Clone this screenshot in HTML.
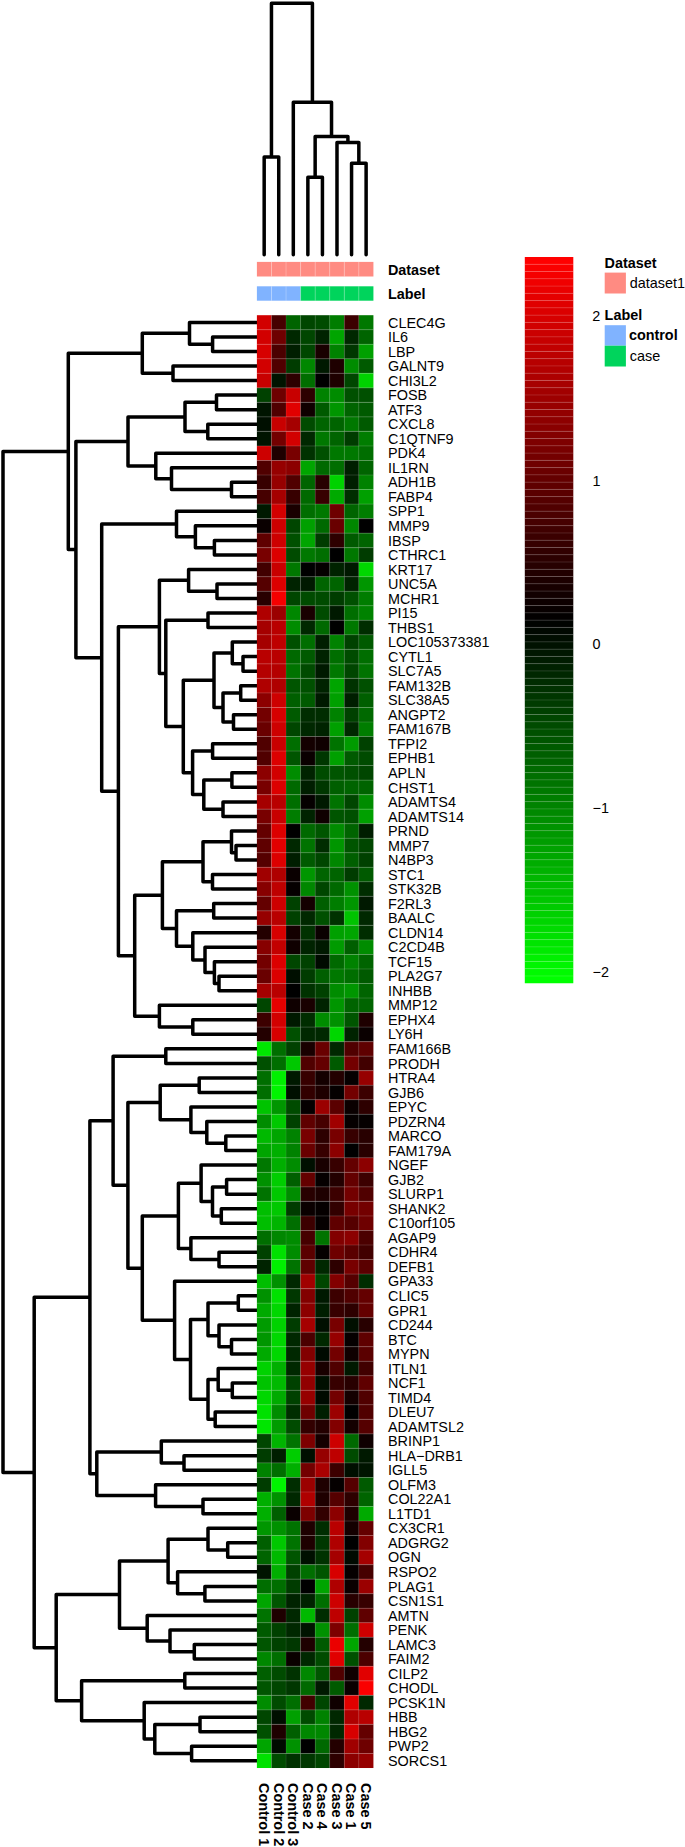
<!DOCTYPE html>
<html><head><meta charset="utf-8"><style>
html,body{margin:0;padding:0;background:#fff;}
body{width:685px;height:1847px;position:relative;overflow:hidden;font-family:"Liberation Sans",sans-serif;}
</style></head><body>
<svg width="685" height="1847" viewBox="0 0 685 1847" style="position:absolute;left:0;top:0"><path d="M256.90 336.99H212.60V351.52H256.90M256.90 322.46H189.50V344.26H212.60M256.90 366.05H173.00V380.58H256.90M189.50 333.36H142.30V373.31H173.00M256.90 395.10H216.50V409.63H256.90M256.90 424.16H207.80V438.69H256.90M216.50 402.37H185.00V431.42H207.80M256.90 482.27H231.50V496.80H256.90M256.90 467.74H171.50V489.54H231.50M256.90 453.22H155.80V478.64H171.50M185.00 416.90H128.00V465.93H155.80M256.90 540.38H214.40V554.91H256.90M256.90 525.86H195.40V547.65H214.40M256.90 511.33H176.50V536.75H195.40M256.90 583.97H217.00V598.50H256.90M256.90 569.44H188.60V591.23H217.00M256.90 613.02H208.00V627.55H256.90M256.90 656.61H243.00V671.14H256.90M256.90 642.08H232.30V663.87H243.00M256.90 685.66H240.70V700.19H256.90M256.90 714.72H233.50V729.25H256.90M240.70 692.93H223.00V721.98H233.50M232.30 652.98H214.00V707.46H223.00M256.90 743.78H212.60V758.30H256.90M256.90 772.83H231.90V787.36H256.90M256.90 801.89H223.00V816.42H256.90M231.90 780.10H203.80V809.15H223.00M212.60 751.04H192.60V794.62H203.80M214.00 680.22H183.30V772.83H192.60M208.00 620.29H165.80V726.52H183.30M188.60 580.34H159.40V673.41H165.80M256.90 845.47H236.00V860.00H256.90M256.90 830.94H231.50V852.74H236.00M256.90 874.53H212.50V889.06H256.90M231.50 841.84H203.00V881.79H212.50M256.90 903.58H213.70V918.11H256.90M256.90 976.22H219.00V990.75H256.90M256.90 961.70H214.40V983.49H219.00M256.90 947.17H205.00V972.59H214.40M256.90 932.64H192.80V959.88H205.00M213.70 910.85H176.50V946.26H192.80M203.00 861.82H162.40V928.55H176.50M256.90 1019.81H192.80V1034.34H256.90M256.90 1005.28H159.40V1027.07H192.80M162.40 895.19H134.70V1016.18H159.40M159.40 626.87H118.40V955.68H134.70M176.50 524.04H101.70V791.28H118.40M128.00 441.41H75.90V657.66H101.70M142.30 353.34H68.30V549.53H75.90M256.90 1048.86H165.80V1063.39H256.90M256.90 1077.92H199.20V1092.45H256.90M256.90 1136.03H225.80V1150.56H256.90M256.90 1121.50H206.80V1143.30H225.80M256.90 1106.98H190.90V1132.40H206.80M199.20 1085.18H160.20V1119.69H190.90M256.90 1179.62H226.60V1194.14H256.90M256.90 1208.67H221.30V1223.20H256.90M226.60 1186.88H212.50V1215.94H221.30M256.90 1165.09H201.10V1201.41H212.50M256.90 1252.26H219.00V1266.78H256.90M256.90 1237.73H190.90V1259.52H219.00M201.10 1183.25H178.40V1248.62H190.90M256.90 1295.84H238.30V1310.37H256.90M256.90 1339.42H231.50V1353.95H256.90M256.90 1324.90H219.00V1346.69H231.50M238.30 1303.10H208.00V1335.79H219.00M256.90 1383.01H232.30V1397.54H256.90M256.90 1368.48H218.20V1390.27H232.30M256.90 1412.06H215.20V1426.59H256.90M218.20 1379.38H208.00V1419.33H215.20M208.00 1319.45H190.50V1399.35H208.00M256.90 1281.31H174.60V1359.40H190.50M178.40 1215.94H142.30V1320.36H174.60M160.20 1102.44H127.90V1268.15H142.30M165.80 1056.13H113.10V1185.29H127.90M256.90 1455.65H184.00V1470.18H256.90M256.90 1441.12H161.30V1462.91H184.00M256.90 1499.23H203.00V1513.76H256.90M256.90 1484.70H155.60V1506.50H203.00M161.30 1452.02H96.80V1495.60H155.60M113.10 1120.71H89.90V1473.81H96.80M256.90 1542.82H227.70V1557.34H256.90M256.90 1528.29H208.00V1550.08H227.70M256.90 1586.40H204.90V1600.93H256.90M256.90 1571.87H177.60V1593.66H204.90M208.00 1539.18H168.10V1582.77H177.60M256.90 1644.51H194.30V1659.04H256.90M256.90 1629.98H170.00V1651.78H194.30M256.90 1615.46H147.20V1640.88H170.00M168.10 1560.98H119.50V1628.17H147.20M256.90 1673.57H184.80V1688.10H256.90M256.90 1717.15H200.00V1731.68H256.90M256.90 1746.21H191.60V1760.74H256.90M200.00 1724.42H154.80V1753.47H191.60M256.90 1702.62H144.20V1738.94H154.80M184.80 1680.83H81.60V1720.78H144.20M119.50 1594.57H56.20V1700.81H81.60M89.90 1297.26H34.20V1647.69H56.20M68.30 451.44H3.00V1472.47H34.20" stroke="#000" stroke-width="3.5" fill="none" stroke-linejoin="round" stroke-linecap="round"/><path d="M264.18 254.80V157.00H278.74V254.80M307.87 254.80V177.20H322.43V254.80M351.56 254.80V163.20H366.12V254.80M336.99 254.80V142.50H358.84V163.20M315.15 177.20V136.40H347.92V142.50M293.31 254.80V102.20H331.53V136.40M271.46 157.00V3.20H312.42V102.20" stroke="#000" stroke-width="3.5" fill="none" stroke-linejoin="round" stroke-linecap="round"/><g><rect x="256.90" y="315.20" width="14.58" height="14.55" fill="#d20000"/><rect x="271.46" y="315.20" width="14.58" height="14.55" fill="#460000"/><rect x="286.02" y="315.20" width="14.58" height="14.55" fill="#006400"/><rect x="300.59" y="315.20" width="14.58" height="14.55" fill="#004600"/><rect x="315.15" y="315.20" width="14.58" height="14.55" fill="#004b00"/><rect x="329.71" y="315.20" width="14.58" height="14.55" fill="#007d00"/><rect x="344.27" y="315.20" width="14.58" height="14.55" fill="#3c0000"/><rect x="358.84" y="315.20" width="14.58" height="14.55" fill="#007800"/><rect x="256.90" y="329.73" width="14.58" height="14.55" fill="#d20000"/><rect x="271.46" y="329.73" width="14.58" height="14.55" fill="#6e0000"/><rect x="286.02" y="329.73" width="14.58" height="14.55" fill="#002800"/><rect x="300.59" y="329.73" width="14.58" height="14.55" fill="#004600"/><rect x="315.15" y="329.73" width="14.58" height="14.55" fill="#002300"/><rect x="329.71" y="329.73" width="14.58" height="14.55" fill="#00a500"/><rect x="344.27" y="329.73" width="14.58" height="14.55" fill="#002800"/><rect x="358.84" y="329.73" width="14.58" height="14.55" fill="#006400"/><rect x="256.90" y="344.26" width="14.58" height="14.55" fill="#d70000"/><rect x="271.46" y="344.26" width="14.58" height="14.55" fill="#4b0000"/><rect x="286.02" y="344.26" width="14.58" height="14.55" fill="#001e00"/><rect x="300.59" y="344.26" width="14.58" height="14.55" fill="#004600"/><rect x="315.15" y="344.26" width="14.58" height="14.55" fill="#190000"/><rect x="329.71" y="344.26" width="14.58" height="14.55" fill="#008200"/><rect x="344.27" y="344.26" width="14.58" height="14.55" fill="#003700"/><rect x="358.84" y="344.26" width="14.58" height="14.55" fill="#00a000"/><rect x="256.90" y="358.78" width="14.58" height="14.55" fill="#d20000"/><rect x="271.46" y="358.78" width="14.58" height="14.55" fill="#500000"/><rect x="286.02" y="358.78" width="14.58" height="14.55" fill="#003c00"/><rect x="300.59" y="358.78" width="14.58" height="14.55" fill="#008700"/><rect x="315.15" y="358.78" width="14.58" height="14.55" fill="#001900"/><rect x="329.71" y="358.78" width="14.58" height="14.55" fill="#1e0000"/><rect x="344.27" y="358.78" width="14.58" height="14.55" fill="#008c00"/><rect x="358.84" y="358.78" width="14.58" height="14.55" fill="#005a00"/><rect x="256.90" y="373.31" width="14.58" height="14.55" fill="#c80000"/><rect x="271.46" y="373.31" width="14.58" height="14.55" fill="#001400"/><rect x="286.02" y="373.31" width="14.58" height="14.55" fill="#2d0000"/><rect x="300.59" y="373.31" width="14.58" height="14.55" fill="#006e00"/><rect x="315.15" y="373.31" width="14.58" height="14.55" fill="#000000"/><rect x="329.71" y="373.31" width="14.58" height="14.55" fill="#1e0000"/><rect x="344.27" y="373.31" width="14.58" height="14.55" fill="#004600"/><rect x="358.84" y="373.31" width="14.58" height="14.55" fill="#00d200"/><rect x="256.90" y="387.84" width="14.58" height="14.55" fill="#004100"/><rect x="271.46" y="387.84" width="14.58" height="14.55" fill="#6e0000"/><rect x="286.02" y="387.84" width="14.58" height="14.55" fill="#c80000"/><rect x="300.59" y="387.84" width="14.58" height="14.55" fill="#2d0000"/><rect x="315.15" y="387.84" width="14.58" height="14.55" fill="#008200"/><rect x="329.71" y="387.84" width="14.58" height="14.55" fill="#008c00"/><rect x="344.27" y="387.84" width="14.58" height="14.55" fill="#005000"/><rect x="358.84" y="387.84" width="14.58" height="14.55" fill="#005000"/><rect x="256.90" y="402.37" width="14.58" height="14.55" fill="#001400"/><rect x="271.46" y="402.37" width="14.58" height="14.55" fill="#500000"/><rect x="286.02" y="402.37" width="14.58" height="14.55" fill="#e10000"/><rect x="300.59" y="402.37" width="14.58" height="14.55" fill="#0f0000"/><rect x="315.15" y="402.37" width="14.58" height="14.55" fill="#005a00"/><rect x="329.71" y="402.37" width="14.58" height="14.55" fill="#009600"/><rect x="344.27" y="402.37" width="14.58" height="14.55" fill="#006400"/><rect x="358.84" y="402.37" width="14.58" height="14.55" fill="#005a00"/><rect x="256.90" y="416.90" width="14.58" height="14.55" fill="#000f00"/><rect x="271.46" y="416.90" width="14.58" height="14.55" fill="#c80000"/><rect x="286.02" y="416.90" width="14.58" height="14.55" fill="#a50000"/><rect x="300.59" y="416.90" width="14.58" height="14.55" fill="#004b00"/><rect x="315.15" y="416.90" width="14.58" height="14.55" fill="#006400"/><rect x="329.71" y="416.90" width="14.58" height="14.55" fill="#006400"/><rect x="344.27" y="416.90" width="14.58" height="14.55" fill="#007800"/><rect x="358.84" y="416.90" width="14.58" height="14.55" fill="#005a00"/><rect x="256.90" y="431.42" width="14.58" height="14.55" fill="#001400"/><rect x="271.46" y="431.42" width="14.58" height="14.55" fill="#730000"/><rect x="286.02" y="431.42" width="14.58" height="14.55" fill="#d20000"/><rect x="300.59" y="431.42" width="14.58" height="14.55" fill="#002800"/><rect x="315.15" y="431.42" width="14.58" height="14.55" fill="#007800"/><rect x="329.71" y="431.42" width="14.58" height="14.55" fill="#006400"/><rect x="344.27" y="431.42" width="14.58" height="14.55" fill="#003c00"/><rect x="358.84" y="431.42" width="14.58" height="14.55" fill="#007d00"/><rect x="256.90" y="445.95" width="14.58" height="14.55" fill="#cd0000"/><rect x="271.46" y="445.95" width="14.58" height="14.55" fill="#1e0000"/><rect x="286.02" y="445.95" width="14.58" height="14.55" fill="#780000"/><rect x="300.59" y="445.95" width="14.58" height="14.55" fill="#003200"/><rect x="315.15" y="445.95" width="14.58" height="14.55" fill="#005000"/><rect x="329.71" y="445.95" width="14.58" height="14.55" fill="#007800"/><rect x="344.27" y="445.95" width="14.58" height="14.55" fill="#007800"/><rect x="358.84" y="445.95" width="14.58" height="14.55" fill="#006e00"/><rect x="256.90" y="460.48" width="14.58" height="14.55" fill="#500000"/><rect x="271.46" y="460.48" width="14.58" height="14.55" fill="#960000"/><rect x="286.02" y="460.48" width="14.58" height="14.55" fill="#8c0000"/><rect x="300.59" y="460.48" width="14.58" height="14.55" fill="#00a500"/><rect x="315.15" y="460.48" width="14.58" height="14.55" fill="#006900"/><rect x="329.71" y="460.48" width="14.58" height="14.55" fill="#006e00"/><rect x="344.27" y="460.48" width="14.58" height="14.55" fill="#001e00"/><rect x="358.84" y="460.48" width="14.58" height="14.55" fill="#006400"/><rect x="256.90" y="475.01" width="14.58" height="14.55" fill="#370000"/><rect x="271.46" y="475.01" width="14.58" height="14.55" fill="#960000"/><rect x="286.02" y="475.01" width="14.58" height="14.55" fill="#500000"/><rect x="300.59" y="475.01" width="14.58" height="14.55" fill="#006400"/><rect x="315.15" y="475.01" width="14.58" height="14.55" fill="#280000"/><rect x="329.71" y="475.01" width="14.58" height="14.55" fill="#00d200"/><rect x="344.27" y="475.01" width="14.58" height="14.55" fill="#001e00"/><rect x="358.84" y="475.01" width="14.58" height="14.55" fill="#008200"/><rect x="256.90" y="489.54" width="14.58" height="14.55" fill="#460000"/><rect x="271.46" y="489.54" width="14.58" height="14.55" fill="#a50000"/><rect x="286.02" y="489.54" width="14.58" height="14.55" fill="#370000"/><rect x="300.59" y="489.54" width="14.58" height="14.55" fill="#006900"/><rect x="315.15" y="489.54" width="14.58" height="14.55" fill="#370000"/><rect x="329.71" y="489.54" width="14.58" height="14.55" fill="#00aa00"/><rect x="344.27" y="489.54" width="14.58" height="14.55" fill="#002d00"/><rect x="358.84" y="489.54" width="14.58" height="14.55" fill="#00a000"/><rect x="256.90" y="504.06" width="14.58" height="14.55" fill="#001900"/><rect x="271.46" y="504.06" width="14.58" height="14.55" fill="#d20000"/><rect x="286.02" y="504.06" width="14.58" height="14.55" fill="#190000"/><rect x="300.59" y="504.06" width="14.58" height="14.55" fill="#006e00"/><rect x="315.15" y="504.06" width="14.58" height="14.55" fill="#007800"/><rect x="329.71" y="504.06" width="14.58" height="14.55" fill="#6e0000"/><rect x="344.27" y="504.06" width="14.58" height="14.55" fill="#006400"/><rect x="358.84" y="504.06" width="14.58" height="14.55" fill="#007d00"/><rect x="256.90" y="518.59" width="14.58" height="14.55" fill="#0a0000"/><rect x="271.46" y="518.59" width="14.58" height="14.55" fill="#cd0000"/><rect x="286.02" y="518.59" width="14.58" height="14.55" fill="#004600"/><rect x="300.59" y="518.59" width="14.58" height="14.55" fill="#00a000"/><rect x="315.15" y="518.59" width="14.58" height="14.55" fill="#006900"/><rect x="329.71" y="518.59" width="14.58" height="14.55" fill="#690000"/><rect x="344.27" y="518.59" width="14.58" height="14.55" fill="#008700"/><rect x="358.84" y="518.59" width="14.58" height="14.55" fill="#000000"/><rect x="256.90" y="533.12" width="14.58" height="14.55" fill="#5f0000"/><rect x="271.46" y="533.12" width="14.58" height="14.55" fill="#cd0000"/><rect x="286.02" y="533.12" width="14.58" height="14.55" fill="#005000"/><rect x="300.59" y="533.12" width="14.58" height="14.55" fill="#00a500"/><rect x="315.15" y="533.12" width="14.58" height="14.55" fill="#003c00"/><rect x="329.71" y="533.12" width="14.58" height="14.55" fill="#2d0000"/><rect x="344.27" y="533.12" width="14.58" height="14.55" fill="#005a00"/><rect x="358.84" y="533.12" width="14.58" height="14.55" fill="#006400"/><rect x="256.90" y="547.65" width="14.58" height="14.55" fill="#780000"/><rect x="271.46" y="547.65" width="14.58" height="14.55" fill="#dc0000"/><rect x="286.02" y="547.65" width="14.58" height="14.55" fill="#004b00"/><rect x="300.59" y="547.65" width="14.58" height="14.55" fill="#007800"/><rect x="315.15" y="547.65" width="14.58" height="14.55" fill="#006e00"/><rect x="329.71" y="547.65" width="14.58" height="14.55" fill="#000000"/><rect x="344.27" y="547.65" width="14.58" height="14.55" fill="#007800"/><rect x="358.84" y="547.65" width="14.58" height="14.55" fill="#003c00"/><rect x="256.90" y="562.18" width="14.58" height="14.55" fill="#410000"/><rect x="271.46" y="562.18" width="14.58" height="14.55" fill="#c80000"/><rect x="286.02" y="562.18" width="14.58" height="14.55" fill="#007800"/><rect x="300.59" y="562.18" width="14.58" height="14.55" fill="#000000"/><rect x="315.15" y="562.18" width="14.58" height="14.55" fill="#050000"/><rect x="329.71" y="562.18" width="14.58" height="14.55" fill="#002300"/><rect x="344.27" y="562.18" width="14.58" height="14.55" fill="#001900"/><rect x="358.84" y="562.18" width="14.58" height="14.55" fill="#00d700"/><rect x="256.90" y="576.70" width="14.58" height="14.55" fill="#550000"/><rect x="271.46" y="576.70" width="14.58" height="14.55" fill="#dc0000"/><rect x="286.02" y="576.70" width="14.58" height="14.55" fill="#002300"/><rect x="300.59" y="576.70" width="14.58" height="14.55" fill="#001900"/><rect x="315.15" y="576.70" width="14.58" height="14.55" fill="#006400"/><rect x="329.71" y="576.70" width="14.58" height="14.55" fill="#006400"/><rect x="344.27" y="576.70" width="14.58" height="14.55" fill="#002300"/><rect x="358.84" y="576.70" width="14.58" height="14.55" fill="#009600"/><rect x="256.90" y="591.23" width="14.58" height="14.55" fill="#280000"/><rect x="271.46" y="591.23" width="14.58" height="14.55" fill="#f50000"/><rect x="286.02" y="591.23" width="14.58" height="14.55" fill="#004600"/><rect x="300.59" y="591.23" width="14.58" height="14.55" fill="#004b00"/><rect x="315.15" y="591.23" width="14.58" height="14.55" fill="#004b00"/><rect x="329.71" y="591.23" width="14.58" height="14.55" fill="#003c00"/><rect x="344.27" y="591.23" width="14.58" height="14.55" fill="#005000"/><rect x="358.84" y="591.23" width="14.58" height="14.55" fill="#007d00"/><rect x="256.90" y="605.76" width="14.58" height="14.55" fill="#af0000"/><rect x="271.46" y="605.76" width="14.58" height="14.55" fill="#9b0000"/><rect x="286.02" y="605.76" width="14.58" height="14.55" fill="#008700"/><rect x="300.59" y="605.76" width="14.58" height="14.55" fill="#190000"/><rect x="315.15" y="605.76" width="14.58" height="14.55" fill="#004b00"/><rect x="329.71" y="605.76" width="14.58" height="14.55" fill="#001900"/><rect x="344.27" y="605.76" width="14.58" height="14.55" fill="#006e00"/><rect x="358.84" y="605.76" width="14.58" height="14.55" fill="#008200"/><rect x="256.90" y="620.29" width="14.58" height="14.55" fill="#a50000"/><rect x="271.46" y="620.29" width="14.58" height="14.55" fill="#b90000"/><rect x="286.02" y="620.29" width="14.58" height="14.55" fill="#008c00"/><rect x="300.59" y="620.29" width="14.58" height="14.55" fill="#002800"/><rect x="315.15" y="620.29" width="14.58" height="14.55" fill="#006900"/><rect x="329.71" y="620.29" width="14.58" height="14.55" fill="#000000"/><rect x="344.27" y="620.29" width="14.58" height="14.55" fill="#007800"/><rect x="358.84" y="620.29" width="14.58" height="14.55" fill="#002d00"/><rect x="256.90" y="634.82" width="14.58" height="14.55" fill="#a50000"/><rect x="271.46" y="634.82" width="14.58" height="14.55" fill="#be0000"/><rect x="286.02" y="634.82" width="14.58" height="14.55" fill="#005000"/><rect x="300.59" y="634.82" width="14.58" height="14.55" fill="#006e00"/><rect x="315.15" y="634.82" width="14.58" height="14.55" fill="#001e00"/><rect x="329.71" y="634.82" width="14.58" height="14.55" fill="#008200"/><rect x="344.27" y="634.82" width="14.58" height="14.55" fill="#004100"/><rect x="358.84" y="634.82" width="14.58" height="14.55" fill="#005a00"/><rect x="256.90" y="649.34" width="14.58" height="14.55" fill="#b90000"/><rect x="271.46" y="649.34" width="14.58" height="14.55" fill="#b90000"/><rect x="286.02" y="649.34" width="14.58" height="14.55" fill="#006900"/><rect x="300.59" y="649.34" width="14.58" height="14.55" fill="#005a00"/><rect x="315.15" y="649.34" width="14.58" height="14.55" fill="#002300"/><rect x="329.71" y="649.34" width="14.58" height="14.55" fill="#006e00"/><rect x="344.27" y="649.34" width="14.58" height="14.55" fill="#004b00"/><rect x="358.84" y="649.34" width="14.58" height="14.55" fill="#006e00"/><rect x="256.90" y="663.87" width="14.58" height="14.55" fill="#b40000"/><rect x="271.46" y="663.87" width="14.58" height="14.55" fill="#b40000"/><rect x="286.02" y="663.87" width="14.58" height="14.55" fill="#007300"/><rect x="300.59" y="663.87" width="14.58" height="14.55" fill="#004b00"/><rect x="315.15" y="663.87" width="14.58" height="14.55" fill="#001900"/><rect x="329.71" y="663.87" width="14.58" height="14.55" fill="#007800"/><rect x="344.27" y="663.87" width="14.58" height="14.55" fill="#004600"/><rect x="358.84" y="663.87" width="14.58" height="14.55" fill="#007300"/><rect x="256.90" y="678.40" width="14.58" height="14.55" fill="#af0000"/><rect x="271.46" y="678.40" width="14.58" height="14.55" fill="#af0000"/><rect x="286.02" y="678.40" width="14.58" height="14.55" fill="#005500"/><rect x="300.59" y="678.40" width="14.58" height="14.55" fill="#005000"/><rect x="315.15" y="678.40" width="14.58" height="14.55" fill="#002300"/><rect x="329.71" y="678.40" width="14.58" height="14.55" fill="#00a500"/><rect x="344.27" y="678.40" width="14.58" height="14.55" fill="#003200"/><rect x="358.84" y="678.40" width="14.58" height="14.55" fill="#005000"/><rect x="256.90" y="692.93" width="14.58" height="14.55" fill="#8c0000"/><rect x="271.46" y="692.93" width="14.58" height="14.55" fill="#cd0000"/><rect x="286.02" y="692.93" width="14.58" height="14.55" fill="#005f00"/><rect x="300.59" y="692.93" width="14.58" height="14.55" fill="#005a00"/><rect x="315.15" y="692.93" width="14.58" height="14.55" fill="#001900"/><rect x="329.71" y="692.93" width="14.58" height="14.55" fill="#00a000"/><rect x="344.27" y="692.93" width="14.58" height="14.55" fill="#001e00"/><rect x="358.84" y="692.93" width="14.58" height="14.55" fill="#005f00"/><rect x="256.90" y="707.46" width="14.58" height="14.55" fill="#730000"/><rect x="271.46" y="707.46" width="14.58" height="14.55" fill="#d70000"/><rect x="286.02" y="707.46" width="14.58" height="14.55" fill="#005a00"/><rect x="300.59" y="707.46" width="14.58" height="14.55" fill="#002d00"/><rect x="315.15" y="707.46" width="14.58" height="14.55" fill="#002d00"/><rect x="329.71" y="707.46" width="14.58" height="14.55" fill="#008200"/><rect x="344.27" y="707.46" width="14.58" height="14.55" fill="#004100"/><rect x="358.84" y="707.46" width="14.58" height="14.55" fill="#006900"/><rect x="256.90" y="721.98" width="14.58" height="14.55" fill="#690000"/><rect x="271.46" y="721.98" width="14.58" height="14.55" fill="#cd0000"/><rect x="286.02" y="721.98" width="14.58" height="14.55" fill="#004600"/><rect x="300.59" y="721.98" width="14.58" height="14.55" fill="#002800"/><rect x="315.15" y="721.98" width="14.58" height="14.55" fill="#002300"/><rect x="329.71" y="721.98" width="14.58" height="14.55" fill="#00a000"/><rect x="344.27" y="721.98" width="14.58" height="14.55" fill="#002800"/><rect x="358.84" y="721.98" width="14.58" height="14.55" fill="#007d00"/><rect x="256.90" y="736.51" width="14.58" height="14.55" fill="#500000"/><rect x="271.46" y="736.51" width="14.58" height="14.55" fill="#c80000"/><rect x="286.02" y="736.51" width="14.58" height="14.55" fill="#006e00"/><rect x="300.59" y="736.51" width="14.58" height="14.55" fill="#140000"/><rect x="315.15" y="736.51" width="14.58" height="14.55" fill="#0f0000"/><rect x="329.71" y="736.51" width="14.58" height="14.55" fill="#007300"/><rect x="344.27" y="736.51" width="14.58" height="14.55" fill="#009b00"/><rect x="358.84" y="736.51" width="14.58" height="14.55" fill="#004100"/><rect x="256.90" y="751.04" width="14.58" height="14.55" fill="#500000"/><rect x="271.46" y="751.04" width="14.58" height="14.55" fill="#dc0000"/><rect x="286.02" y="751.04" width="14.58" height="14.55" fill="#005500"/><rect x="300.59" y="751.04" width="14.58" height="14.55" fill="#0a0000"/><rect x="315.15" y="751.04" width="14.58" height="14.55" fill="#003700"/><rect x="329.71" y="751.04" width="14.58" height="14.55" fill="#00a000"/><rect x="344.27" y="751.04" width="14.58" height="14.55" fill="#005a00"/><rect x="358.84" y="751.04" width="14.58" height="14.55" fill="#004b00"/><rect x="256.90" y="765.57" width="14.58" height="14.55" fill="#8c0000"/><rect x="271.46" y="765.57" width="14.58" height="14.55" fill="#d20000"/><rect x="286.02" y="765.57" width="14.58" height="14.55" fill="#008c00"/><rect x="300.59" y="765.57" width="14.58" height="14.55" fill="#002300"/><rect x="315.15" y="765.57" width="14.58" height="14.55" fill="#004b00"/><rect x="329.71" y="765.57" width="14.58" height="14.55" fill="#005500"/><rect x="344.27" y="765.57" width="14.58" height="14.55" fill="#005000"/><rect x="358.84" y="765.57" width="14.58" height="14.55" fill="#004600"/><rect x="256.90" y="780.10" width="14.58" height="14.55" fill="#780000"/><rect x="271.46" y="780.10" width="14.58" height="14.55" fill="#dc0000"/><rect x="286.02" y="780.10" width="14.58" height="14.55" fill="#006900"/><rect x="300.59" y="780.10" width="14.58" height="14.55" fill="#001e00"/><rect x="315.15" y="780.10" width="14.58" height="14.55" fill="#003700"/><rect x="329.71" y="780.10" width="14.58" height="14.55" fill="#005f00"/><rect x="344.27" y="780.10" width="14.58" height="14.55" fill="#006400"/><rect x="358.84" y="780.10" width="14.58" height="14.55" fill="#006400"/><rect x="256.90" y="794.62" width="14.58" height="14.55" fill="#a50000"/><rect x="271.46" y="794.62" width="14.58" height="14.55" fill="#b90000"/><rect x="286.02" y="794.62" width="14.58" height="14.55" fill="#006e00"/><rect x="300.59" y="794.62" width="14.58" height="14.55" fill="#050000"/><rect x="315.15" y="794.62" width="14.58" height="14.55" fill="#001900"/><rect x="329.71" y="794.62" width="14.58" height="14.55" fill="#007300"/><rect x="344.27" y="794.62" width="14.58" height="14.55" fill="#004600"/><rect x="358.84" y="794.62" width="14.58" height="14.55" fill="#008c00"/><rect x="256.90" y="809.15" width="14.58" height="14.55" fill="#780000"/><rect x="271.46" y="809.15" width="14.58" height="14.55" fill="#c80000"/><rect x="286.02" y="809.15" width="14.58" height="14.55" fill="#007d00"/><rect x="300.59" y="809.15" width="14.58" height="14.55" fill="#002300"/><rect x="315.15" y="809.15" width="14.58" height="14.55" fill="#0f0000"/><rect x="329.71" y="809.15" width="14.58" height="14.55" fill="#005500"/><rect x="344.27" y="809.15" width="14.58" height="14.55" fill="#005000"/><rect x="358.84" y="809.15" width="14.58" height="14.55" fill="#00a000"/><rect x="256.90" y="823.68" width="14.58" height="14.55" fill="#640000"/><rect x="271.46" y="823.68" width="14.58" height="14.55" fill="#dc0000"/><rect x="286.02" y="823.68" width="14.58" height="14.55" fill="#000000"/><rect x="300.59" y="823.68" width="14.58" height="14.55" fill="#006900"/><rect x="315.15" y="823.68" width="14.58" height="14.55" fill="#005500"/><rect x="329.71" y="823.68" width="14.58" height="14.55" fill="#008c00"/><rect x="344.27" y="823.68" width="14.58" height="14.55" fill="#006400"/><rect x="358.84" y="823.68" width="14.58" height="14.55" fill="#001e00"/><rect x="256.90" y="838.21" width="14.58" height="14.55" fill="#5f0000"/><rect x="271.46" y="838.21" width="14.58" height="14.55" fill="#e10000"/><rect x="286.02" y="838.21" width="14.58" height="14.55" fill="#002800"/><rect x="300.59" y="838.21" width="14.58" height="14.55" fill="#007300"/><rect x="315.15" y="838.21" width="14.58" height="14.55" fill="#002d00"/><rect x="329.71" y="838.21" width="14.58" height="14.55" fill="#009600"/><rect x="344.27" y="838.21" width="14.58" height="14.55" fill="#005500"/><rect x="358.84" y="838.21" width="14.58" height="14.55" fill="#004600"/><rect x="256.90" y="852.74" width="14.58" height="14.55" fill="#550000"/><rect x="271.46" y="852.74" width="14.58" height="14.55" fill="#dc0000"/><rect x="286.02" y="852.74" width="14.58" height="14.55" fill="#001e00"/><rect x="300.59" y="852.74" width="14.58" height="14.55" fill="#005a00"/><rect x="315.15" y="852.74" width="14.58" height="14.55" fill="#004600"/><rect x="329.71" y="852.74" width="14.58" height="14.55" fill="#008700"/><rect x="344.27" y="852.74" width="14.58" height="14.55" fill="#005f00"/><rect x="358.84" y="852.74" width="14.58" height="14.55" fill="#004100"/><rect x="256.90" y="867.26" width="14.58" height="14.55" fill="#a00000"/><rect x="271.46" y="867.26" width="14.58" height="14.55" fill="#af0000"/><rect x="286.02" y="867.26" width="14.58" height="14.55" fill="#0a0000"/><rect x="300.59" y="867.26" width="14.58" height="14.55" fill="#009600"/><rect x="315.15" y="867.26" width="14.58" height="14.55" fill="#006400"/><rect x="329.71" y="867.26" width="14.58" height="14.55" fill="#006400"/><rect x="344.27" y="867.26" width="14.58" height="14.55" fill="#003c00"/><rect x="358.84" y="867.26" width="14.58" height="14.55" fill="#005a00"/><rect x="256.90" y="881.79" width="14.58" height="14.55" fill="#870000"/><rect x="271.46" y="881.79" width="14.58" height="14.55" fill="#be0000"/><rect x="286.02" y="881.79" width="14.58" height="14.55" fill="#050000"/><rect x="300.59" y="881.79" width="14.58" height="14.55" fill="#008700"/><rect x="315.15" y="881.79" width="14.58" height="14.55" fill="#004600"/><rect x="329.71" y="881.79" width="14.58" height="14.55" fill="#006900"/><rect x="344.27" y="881.79" width="14.58" height="14.55" fill="#009100"/><rect x="358.84" y="881.79" width="14.58" height="14.55" fill="#002d00"/><rect x="256.90" y="896.32" width="14.58" height="14.55" fill="#640000"/><rect x="271.46" y="896.32" width="14.58" height="14.55" fill="#cd0000"/><rect x="286.02" y="896.32" width="14.58" height="14.55" fill="#004100"/><rect x="300.59" y="896.32" width="14.58" height="14.55" fill="#140000"/><rect x="315.15" y="896.32" width="14.58" height="14.55" fill="#005f00"/><rect x="329.71" y="896.32" width="14.58" height="14.55" fill="#007d00"/><rect x="344.27" y="896.32" width="14.58" height="14.55" fill="#009600"/><rect x="358.84" y="896.32" width="14.58" height="14.55" fill="#001900"/><rect x="256.90" y="910.85" width="14.58" height="14.55" fill="#960000"/><rect x="271.46" y="910.85" width="14.58" height="14.55" fill="#b90000"/><rect x="286.02" y="910.85" width="14.58" height="14.55" fill="#004100"/><rect x="300.59" y="910.85" width="14.58" height="14.55" fill="#002800"/><rect x="315.15" y="910.85" width="14.58" height="14.55" fill="#005000"/><rect x="329.71" y="910.85" width="14.58" height="14.55" fill="#003200"/><rect x="344.27" y="910.85" width="14.58" height="14.55" fill="#00c300"/><rect x="358.84" y="910.85" width="14.58" height="14.55" fill="#002800"/><rect x="256.90" y="925.38" width="14.58" height="14.55" fill="#230000"/><rect x="271.46" y="925.38" width="14.58" height="14.55" fill="#d70000"/><rect x="286.02" y="925.38" width="14.58" height="14.55" fill="#140000"/><rect x="300.59" y="925.38" width="14.58" height="14.55" fill="#003200"/><rect x="315.15" y="925.38" width="14.58" height="14.55" fill="#0a0000"/><rect x="329.71" y="925.38" width="14.58" height="14.55" fill="#00a000"/><rect x="344.27" y="925.38" width="14.58" height="14.55" fill="#00a500"/><rect x="358.84" y="925.38" width="14.58" height="14.55" fill="#002d00"/><rect x="256.90" y="939.90" width="14.58" height="14.55" fill="#870000"/><rect x="271.46" y="939.90" width="14.58" height="14.55" fill="#c30000"/><rect x="286.02" y="939.90" width="14.58" height="14.55" fill="#0f0000"/><rect x="300.59" y="939.90" width="14.58" height="14.55" fill="#002300"/><rect x="315.15" y="939.90" width="14.58" height="14.55" fill="#001900"/><rect x="329.71" y="939.90" width="14.58" height="14.55" fill="#009b00"/><rect x="344.27" y="939.90" width="14.58" height="14.55" fill="#005f00"/><rect x="358.84" y="939.90" width="14.58" height="14.55" fill="#008c00"/><rect x="256.90" y="954.43" width="14.58" height="14.55" fill="#730000"/><rect x="271.46" y="954.43" width="14.58" height="14.55" fill="#dc0000"/><rect x="286.02" y="954.43" width="14.58" height="14.55" fill="#004600"/><rect x="300.59" y="954.43" width="14.58" height="14.55" fill="#004100"/><rect x="315.15" y="954.43" width="14.58" height="14.55" fill="#000a00"/><rect x="329.71" y="954.43" width="14.58" height="14.55" fill="#006900"/><rect x="344.27" y="954.43" width="14.58" height="14.55" fill="#008200"/><rect x="358.84" y="954.43" width="14.58" height="14.55" fill="#006400"/><rect x="256.90" y="968.96" width="14.58" height="14.55" fill="#690000"/><rect x="271.46" y="968.96" width="14.58" height="14.55" fill="#dc0000"/><rect x="286.02" y="968.96" width="14.58" height="14.55" fill="#000f00"/><rect x="300.59" y="968.96" width="14.58" height="14.55" fill="#003c00"/><rect x="315.15" y="968.96" width="14.58" height="14.55" fill="#005f00"/><rect x="329.71" y="968.96" width="14.58" height="14.55" fill="#007800"/><rect x="344.27" y="968.96" width="14.58" height="14.55" fill="#006e00"/><rect x="358.84" y="968.96" width="14.58" height="14.55" fill="#005a00"/><rect x="256.90" y="983.49" width="14.58" height="14.55" fill="#a50000"/><rect x="271.46" y="983.49" width="14.58" height="14.55" fill="#b90000"/><rect x="286.02" y="983.49" width="14.58" height="14.55" fill="#000000"/><rect x="300.59" y="983.49" width="14.58" height="14.55" fill="#003200"/><rect x="315.15" y="983.49" width="14.58" height="14.55" fill="#004100"/><rect x="329.71" y="983.49" width="14.58" height="14.55" fill="#008c00"/><rect x="344.27" y="983.49" width="14.58" height="14.55" fill="#009600"/><rect x="358.84" y="983.49" width="14.58" height="14.55" fill="#006400"/><rect x="256.90" y="998.02" width="14.58" height="14.55" fill="#004600"/><rect x="271.46" y="998.02" width="14.58" height="14.55" fill="#e60000"/><rect x="286.02" y="998.02" width="14.58" height="14.55" fill="#0f0000"/><rect x="300.59" y="998.02" width="14.58" height="14.55" fill="#190000"/><rect x="315.15" y="998.02" width="14.58" height="14.55" fill="#002300"/><rect x="329.71" y="998.02" width="14.58" height="14.55" fill="#009600"/><rect x="344.27" y="998.02" width="14.58" height="14.55" fill="#006400"/><rect x="358.84" y="998.02" width="14.58" height="14.55" fill="#006400"/><rect x="256.90" y="1012.54" width="14.58" height="14.55" fill="#3c0000"/><rect x="271.46" y="1012.54" width="14.58" height="14.55" fill="#d20000"/><rect x="286.02" y="1012.54" width="14.58" height="14.55" fill="#001900"/><rect x="300.59" y="1012.54" width="14.58" height="14.55" fill="#002d00"/><rect x="315.15" y="1012.54" width="14.58" height="14.55" fill="#008c00"/><rect x="329.71" y="1012.54" width="14.58" height="14.55" fill="#009100"/><rect x="344.27" y="1012.54" width="14.58" height="14.55" fill="#005500"/><rect x="358.84" y="1012.54" width="14.58" height="14.55" fill="#1e0000"/><rect x="256.90" y="1027.07" width="14.58" height="14.55" fill="#230000"/><rect x="271.46" y="1027.07" width="14.58" height="14.55" fill="#d70000"/><rect x="286.02" y="1027.07" width="14.58" height="14.55" fill="#005000"/><rect x="300.59" y="1027.07" width="14.58" height="14.55" fill="#002800"/><rect x="315.15" y="1027.07" width="14.58" height="14.55" fill="#002800"/><rect x="329.71" y="1027.07" width="14.58" height="14.55" fill="#00d700"/><rect x="344.27" y="1027.07" width="14.58" height="14.55" fill="#002300"/><rect x="358.84" y="1027.07" width="14.58" height="14.55" fill="#0a0000"/><rect x="256.90" y="1041.60" width="14.58" height="14.55" fill="#00e600"/><rect x="271.46" y="1041.60" width="14.58" height="14.55" fill="#006e00"/><rect x="286.02" y="1041.60" width="14.58" height="14.55" fill="#004100"/><rect x="300.59" y="1041.60" width="14.58" height="14.55" fill="#190000"/><rect x="315.15" y="1041.60" width="14.58" height="14.55" fill="#690000"/><rect x="329.71" y="1041.60" width="14.58" height="14.55" fill="#002800"/><rect x="344.27" y="1041.60" width="14.58" height="14.55" fill="#500000"/><rect x="358.84" y="1041.60" width="14.58" height="14.55" fill="#5f0000"/><rect x="256.90" y="1056.13" width="14.58" height="14.55" fill="#005000"/><rect x="271.46" y="1056.13" width="14.58" height="14.55" fill="#006e00"/><rect x="286.02" y="1056.13" width="14.58" height="14.55" fill="#00c800"/><rect x="300.59" y="1056.13" width="14.58" height="14.55" fill="#500000"/><rect x="315.15" y="1056.13" width="14.58" height="14.55" fill="#640000"/><rect x="329.71" y="1056.13" width="14.58" height="14.55" fill="#005a00"/><rect x="344.27" y="1056.13" width="14.58" height="14.55" fill="#730000"/><rect x="358.84" y="1056.13" width="14.58" height="14.55" fill="#410000"/><rect x="256.90" y="1070.66" width="14.58" height="14.55" fill="#006e00"/><rect x="271.46" y="1070.66" width="14.58" height="14.55" fill="#00f000"/><rect x="286.02" y="1070.66" width="14.58" height="14.55" fill="#001900"/><rect x="300.59" y="1070.66" width="14.58" height="14.55" fill="#370000"/><rect x="315.15" y="1070.66" width="14.58" height="14.55" fill="#140000"/><rect x="329.71" y="1070.66" width="14.58" height="14.55" fill="#230000"/><rect x="344.27" y="1070.66" width="14.58" height="14.55" fill="#050000"/><rect x="358.84" y="1070.66" width="14.58" height="14.55" fill="#960000"/><rect x="256.90" y="1085.18" width="14.58" height="14.55" fill="#006e00"/><rect x="271.46" y="1085.18" width="14.58" height="14.55" fill="#00f500"/><rect x="286.02" y="1085.18" width="14.58" height="14.55" fill="#000f00"/><rect x="300.59" y="1085.18" width="14.58" height="14.55" fill="#320000"/><rect x="315.15" y="1085.18" width="14.58" height="14.55" fill="#1e0000"/><rect x="329.71" y="1085.18" width="14.58" height="14.55" fill="#050000"/><rect x="344.27" y="1085.18" width="14.58" height="14.55" fill="#730000"/><rect x="358.84" y="1085.18" width="14.58" height="14.55" fill="#3c0000"/><rect x="256.90" y="1099.71" width="14.58" height="14.55" fill="#00c300"/><rect x="271.46" y="1099.71" width="14.58" height="14.55" fill="#009600"/><rect x="286.02" y="1099.71" width="14.58" height="14.55" fill="#004b00"/><rect x="300.59" y="1099.71" width="14.58" height="14.55" fill="#050000"/><rect x="315.15" y="1099.71" width="14.58" height="14.55" fill="#9b0000"/><rect x="329.71" y="1099.71" width="14.58" height="14.55" fill="#5a0000"/><rect x="344.27" y="1099.71" width="14.58" height="14.55" fill="#0a0000"/><rect x="358.84" y="1099.71" width="14.58" height="14.55" fill="#2d0000"/><rect x="256.90" y="1114.24" width="14.58" height="14.55" fill="#008c00"/><rect x="271.46" y="1114.24" width="14.58" height="14.55" fill="#00c800"/><rect x="286.02" y="1114.24" width="14.58" height="14.55" fill="#004100"/><rect x="300.59" y="1114.24" width="14.58" height="14.55" fill="#5f0000"/><rect x="315.15" y="1114.24" width="14.58" height="14.55" fill="#460000"/><rect x="329.71" y="1114.24" width="14.58" height="14.55" fill="#a00000"/><rect x="344.27" y="1114.24" width="14.58" height="14.55" fill="#050000"/><rect x="358.84" y="1114.24" width="14.58" height="14.55" fill="#050000"/><rect x="256.90" y="1128.77" width="14.58" height="14.55" fill="#00b900"/><rect x="271.46" y="1128.77" width="14.58" height="14.55" fill="#00a500"/><rect x="286.02" y="1128.77" width="14.58" height="14.55" fill="#008200"/><rect x="300.59" y="1128.77" width="14.58" height="14.55" fill="#780000"/><rect x="315.15" y="1128.77" width="14.58" height="14.55" fill="#2d0000"/><rect x="329.71" y="1128.77" width="14.58" height="14.55" fill="#780000"/><rect x="344.27" y="1128.77" width="14.58" height="14.55" fill="#370000"/><rect x="358.84" y="1128.77" width="14.58" height="14.55" fill="#280000"/><rect x="256.90" y="1143.30" width="14.58" height="14.55" fill="#00a500"/><rect x="271.46" y="1143.30" width="14.58" height="14.55" fill="#00af00"/><rect x="286.02" y="1143.30" width="14.58" height="14.55" fill="#008200"/><rect x="300.59" y="1143.30" width="14.58" height="14.55" fill="#690000"/><rect x="315.15" y="1143.30" width="14.58" height="14.55" fill="#370000"/><rect x="329.71" y="1143.30" width="14.58" height="14.55" fill="#8c0000"/><rect x="344.27" y="1143.30" width="14.58" height="14.55" fill="#000000"/><rect x="358.84" y="1143.30" width="14.58" height="14.55" fill="#280000"/><rect x="256.90" y="1157.82" width="14.58" height="14.55" fill="#007800"/><rect x="271.46" y="1157.82" width="14.58" height="14.55" fill="#00af00"/><rect x="286.02" y="1157.82" width="14.58" height="14.55" fill="#008c00"/><rect x="300.59" y="1157.82" width="14.58" height="14.55" fill="#000f00"/><rect x="315.15" y="1157.82" width="14.58" height="14.55" fill="#190000"/><rect x="329.71" y="1157.82" width="14.58" height="14.55" fill="#370000"/><rect x="344.27" y="1157.82" width="14.58" height="14.55" fill="#640000"/><rect x="358.84" y="1157.82" width="14.58" height="14.55" fill="#8c0000"/><rect x="256.90" y="1172.35" width="14.58" height="14.55" fill="#009100"/><rect x="271.46" y="1172.35" width="14.58" height="14.55" fill="#00cd00"/><rect x="286.02" y="1172.35" width="14.58" height="14.55" fill="#005f00"/><rect x="300.59" y="1172.35" width="14.58" height="14.55" fill="#640000"/><rect x="315.15" y="1172.35" width="14.58" height="14.55" fill="#050000"/><rect x="329.71" y="1172.35" width="14.58" height="14.55" fill="#230000"/><rect x="344.27" y="1172.35" width="14.58" height="14.55" fill="#640000"/><rect x="358.84" y="1172.35" width="14.58" height="14.55" fill="#3c0000"/><rect x="256.90" y="1186.88" width="14.58" height="14.55" fill="#007300"/><rect x="271.46" y="1186.88" width="14.58" height="14.55" fill="#00c800"/><rect x="286.02" y="1186.88" width="14.58" height="14.55" fill="#008c00"/><rect x="300.59" y="1186.88" width="14.58" height="14.55" fill="#280000"/><rect x="315.15" y="1186.88" width="14.58" height="14.55" fill="#1e0000"/><rect x="329.71" y="1186.88" width="14.58" height="14.55" fill="#3c0000"/><rect x="344.27" y="1186.88" width="14.58" height="14.55" fill="#730000"/><rect x="358.84" y="1186.88" width="14.58" height="14.55" fill="#500000"/><rect x="256.90" y="1201.41" width="14.58" height="14.55" fill="#00be00"/><rect x="271.46" y="1201.41" width="14.58" height="14.55" fill="#00c800"/><rect x="286.02" y="1201.41" width="14.58" height="14.55" fill="#003c00"/><rect x="300.59" y="1201.41" width="14.58" height="14.55" fill="#0a0000"/><rect x="315.15" y="1201.41" width="14.58" height="14.55" fill="#050000"/><rect x="329.71" y="1201.41" width="14.58" height="14.55" fill="#320000"/><rect x="344.27" y="1201.41" width="14.58" height="14.55" fill="#780000"/><rect x="358.84" y="1201.41" width="14.58" height="14.55" fill="#730000"/><rect x="256.90" y="1215.94" width="14.58" height="14.55" fill="#00be00"/><rect x="271.46" y="1215.94" width="14.58" height="14.55" fill="#00b400"/><rect x="286.02" y="1215.94" width="14.58" height="14.55" fill="#006e00"/><rect x="300.59" y="1215.94" width="14.58" height="14.55" fill="#3c0000"/><rect x="315.15" y="1215.94" width="14.58" height="14.55" fill="#050000"/><rect x="329.71" y="1215.94" width="14.58" height="14.55" fill="#5f0000"/><rect x="344.27" y="1215.94" width="14.58" height="14.55" fill="#550000"/><rect x="358.84" y="1215.94" width="14.58" height="14.55" fill="#6e0000"/><rect x="256.90" y="1230.46" width="14.58" height="14.55" fill="#006e00"/><rect x="271.46" y="1230.46" width="14.58" height="14.55" fill="#008700"/><rect x="286.02" y="1230.46" width="14.58" height="14.55" fill="#008c00"/><rect x="300.59" y="1230.46" width="14.58" height="14.55" fill="#460000"/><rect x="315.15" y="1230.46" width="14.58" height="14.55" fill="#007300"/><rect x="329.71" y="1230.46" width="14.58" height="14.55" fill="#820000"/><rect x="344.27" y="1230.46" width="14.58" height="14.55" fill="#8c0000"/><rect x="358.84" y="1230.46" width="14.58" height="14.55" fill="#4b0000"/><rect x="256.90" y="1244.99" width="14.58" height="14.55" fill="#004100"/><rect x="271.46" y="1244.99" width="14.58" height="14.55" fill="#00e100"/><rect x="286.02" y="1244.99" width="14.58" height="14.55" fill="#008c00"/><rect x="300.59" y="1244.99" width="14.58" height="14.55" fill="#5a0000"/><rect x="315.15" y="1244.99" width="14.58" height="14.55" fill="#050000"/><rect x="329.71" y="1244.99" width="14.58" height="14.55" fill="#6e0000"/><rect x="344.27" y="1244.99" width="14.58" height="14.55" fill="#5a0000"/><rect x="358.84" y="1244.99" width="14.58" height="14.55" fill="#410000"/><rect x="256.90" y="1259.52" width="14.58" height="14.55" fill="#002300"/><rect x="271.46" y="1259.52" width="14.58" height="14.55" fill="#00f000"/><rect x="286.02" y="1259.52" width="14.58" height="14.55" fill="#007300"/><rect x="300.59" y="1259.52" width="14.58" height="14.55" fill="#5f0000"/><rect x="315.15" y="1259.52" width="14.58" height="14.55" fill="#002800"/><rect x="329.71" y="1259.52" width="14.58" height="14.55" fill="#2d0000"/><rect x="344.27" y="1259.52" width="14.58" height="14.55" fill="#780000"/><rect x="358.84" y="1259.52" width="14.58" height="14.55" fill="#5a0000"/><rect x="256.90" y="1274.05" width="14.58" height="14.55" fill="#00be00"/><rect x="271.46" y="1274.05" width="14.58" height="14.55" fill="#009100"/><rect x="286.02" y="1274.05" width="14.58" height="14.55" fill="#002800"/><rect x="300.59" y="1274.05" width="14.58" height="14.55" fill="#a00000"/><rect x="315.15" y="1274.05" width="14.58" height="14.55" fill="#004600"/><rect x="329.71" y="1274.05" width="14.58" height="14.55" fill="#820000"/><rect x="344.27" y="1274.05" width="14.58" height="14.55" fill="#550000"/><rect x="358.84" y="1274.05" width="14.58" height="14.55" fill="#002d00"/><rect x="256.90" y="1288.58" width="14.58" height="14.55" fill="#009100"/><rect x="271.46" y="1288.58" width="14.58" height="14.55" fill="#00e100"/><rect x="286.02" y="1288.58" width="14.58" height="14.55" fill="#003700"/><rect x="300.59" y="1288.58" width="14.58" height="14.55" fill="#820000"/><rect x="315.15" y="1288.58" width="14.58" height="14.55" fill="#001900"/><rect x="329.71" y="1288.58" width="14.58" height="14.55" fill="#3c0000"/><rect x="344.27" y="1288.58" width="14.58" height="14.55" fill="#500000"/><rect x="358.84" y="1288.58" width="14.58" height="14.55" fill="#640000"/><rect x="256.90" y="1303.10" width="14.58" height="14.55" fill="#00aa00"/><rect x="271.46" y="1303.10" width="14.58" height="14.55" fill="#00d700"/><rect x="286.02" y="1303.10" width="14.58" height="14.55" fill="#002300"/><rect x="300.59" y="1303.10" width="14.58" height="14.55" fill="#8c0000"/><rect x="315.15" y="1303.10" width="14.58" height="14.55" fill="#001e00"/><rect x="329.71" y="1303.10" width="14.58" height="14.55" fill="#370000"/><rect x="344.27" y="1303.10" width="14.58" height="14.55" fill="#2d0000"/><rect x="358.84" y="1303.10" width="14.58" height="14.55" fill="#640000"/><rect x="256.90" y="1317.63" width="14.58" height="14.55" fill="#009b00"/><rect x="271.46" y="1317.63" width="14.58" height="14.55" fill="#00d200"/><rect x="286.02" y="1317.63" width="14.58" height="14.55" fill="#003c00"/><rect x="300.59" y="1317.63" width="14.58" height="14.55" fill="#a50000"/><rect x="315.15" y="1317.63" width="14.58" height="14.55" fill="#000f00"/><rect x="329.71" y="1317.63" width="14.58" height="14.55" fill="#780000"/><rect x="344.27" y="1317.63" width="14.58" height="14.55" fill="#000f00"/><rect x="358.84" y="1317.63" width="14.58" height="14.55" fill="#280000"/><rect x="256.90" y="1332.16" width="14.58" height="14.55" fill="#009600"/><rect x="271.46" y="1332.16" width="14.58" height="14.55" fill="#00d700"/><rect x="286.02" y="1332.16" width="14.58" height="14.55" fill="#002800"/><rect x="300.59" y="1332.16" width="14.58" height="14.55" fill="#4b0000"/><rect x="315.15" y="1332.16" width="14.58" height="14.55" fill="#002800"/><rect x="329.71" y="1332.16" width="14.58" height="14.55" fill="#960000"/><rect x="344.27" y="1332.16" width="14.58" height="14.55" fill="#050000"/><rect x="358.84" y="1332.16" width="14.58" height="14.55" fill="#5f0000"/><rect x="256.90" y="1346.69" width="14.58" height="14.55" fill="#00aa00"/><rect x="271.46" y="1346.69" width="14.58" height="14.55" fill="#00d700"/><rect x="286.02" y="1346.69" width="14.58" height="14.55" fill="#002800"/><rect x="300.59" y="1346.69" width="14.58" height="14.55" fill="#820000"/><rect x="315.15" y="1346.69" width="14.58" height="14.55" fill="#000a00"/><rect x="329.71" y="1346.69" width="14.58" height="14.55" fill="#730000"/><rect x="344.27" y="1346.69" width="14.58" height="14.55" fill="#0f0000"/><rect x="358.84" y="1346.69" width="14.58" height="14.55" fill="#5a0000"/><rect x="256.90" y="1361.22" width="14.58" height="14.55" fill="#00d200"/><rect x="271.46" y="1361.22" width="14.58" height="14.55" fill="#00af00"/><rect x="286.02" y="1361.22" width="14.58" height="14.55" fill="#002800"/><rect x="300.59" y="1361.22" width="14.58" height="14.55" fill="#960000"/><rect x="315.15" y="1361.22" width="14.58" height="14.55" fill="#190000"/><rect x="329.71" y="1361.22" width="14.58" height="14.55" fill="#500000"/><rect x="344.27" y="1361.22" width="14.58" height="14.55" fill="#001900"/><rect x="358.84" y="1361.22" width="14.58" height="14.55" fill="#410000"/><rect x="256.90" y="1375.74" width="14.58" height="14.55" fill="#00c300"/><rect x="271.46" y="1375.74" width="14.58" height="14.55" fill="#00b900"/><rect x="286.02" y="1375.74" width="14.58" height="14.55" fill="#004100"/><rect x="300.59" y="1375.74" width="14.58" height="14.55" fill="#910000"/><rect x="315.15" y="1375.74" width="14.58" height="14.55" fill="#000f00"/><rect x="329.71" y="1375.74" width="14.58" height="14.55" fill="#370000"/><rect x="344.27" y="1375.74" width="14.58" height="14.55" fill="#280000"/><rect x="358.84" y="1375.74" width="14.58" height="14.55" fill="#5f0000"/><rect x="256.90" y="1390.27" width="14.58" height="14.55" fill="#00d700"/><rect x="271.46" y="1390.27" width="14.58" height="14.55" fill="#00aa00"/><rect x="286.02" y="1390.27" width="14.58" height="14.55" fill="#004100"/><rect x="300.59" y="1390.27" width="14.58" height="14.55" fill="#960000"/><rect x="315.15" y="1390.27" width="14.58" height="14.55" fill="#000a00"/><rect x="329.71" y="1390.27" width="14.58" height="14.55" fill="#730000"/><rect x="344.27" y="1390.27" width="14.58" height="14.55" fill="#140000"/><rect x="358.84" y="1390.27" width="14.58" height="14.55" fill="#500000"/><rect x="256.90" y="1404.80" width="14.58" height="14.55" fill="#00e100"/><rect x="271.46" y="1404.80" width="14.58" height="14.55" fill="#008c00"/><rect x="286.02" y="1404.80" width="14.58" height="14.55" fill="#002d00"/><rect x="300.59" y="1404.80" width="14.58" height="14.55" fill="#6e0000"/><rect x="315.15" y="1404.80" width="14.58" height="14.55" fill="#001e00"/><rect x="329.71" y="1404.80" width="14.58" height="14.55" fill="#9b0000"/><rect x="344.27" y="1404.80" width="14.58" height="14.55" fill="#000000"/><rect x="358.84" y="1404.80" width="14.58" height="14.55" fill="#500000"/><rect x="256.90" y="1419.33" width="14.58" height="14.55" fill="#00e600"/><rect x="271.46" y="1419.33" width="14.58" height="14.55" fill="#009b00"/><rect x="286.02" y="1419.33" width="14.58" height="14.55" fill="#004b00"/><rect x="300.59" y="1419.33" width="14.58" height="14.55" fill="#320000"/><rect x="315.15" y="1419.33" width="14.58" height="14.55" fill="#230000"/><rect x="329.71" y="1419.33" width="14.58" height="14.55" fill="#820000"/><rect x="344.27" y="1419.33" width="14.58" height="14.55" fill="#140000"/><rect x="358.84" y="1419.33" width="14.58" height="14.55" fill="#550000"/><rect x="256.90" y="1433.86" width="14.58" height="14.55" fill="#004600"/><rect x="271.46" y="1433.86" width="14.58" height="14.55" fill="#00b400"/><rect x="286.02" y="1433.86" width="14.58" height="14.55" fill="#007300"/><rect x="300.59" y="1433.86" width="14.58" height="14.55" fill="#7d0000"/><rect x="315.15" y="1433.86" width="14.58" height="14.55" fill="#140000"/><rect x="329.71" y="1433.86" width="14.58" height="14.55" fill="#cd0000"/><rect x="344.27" y="1433.86" width="14.58" height="14.55" fill="#006900"/><rect x="358.84" y="1433.86" width="14.58" height="14.55" fill="#0f0000"/><rect x="256.90" y="1448.38" width="14.58" height="14.55" fill="#003c00"/><rect x="271.46" y="1448.38" width="14.58" height="14.55" fill="#001e00"/><rect x="286.02" y="1448.38" width="14.58" height="14.55" fill="#00cd00"/><rect x="300.59" y="1448.38" width="14.58" height="14.55" fill="#000f00"/><rect x="315.15" y="1448.38" width="14.58" height="14.55" fill="#960000"/><rect x="329.71" y="1448.38" width="14.58" height="14.55" fill="#be0000"/><rect x="344.27" y="1448.38" width="14.58" height="14.55" fill="#004b00"/><rect x="358.84" y="1448.38" width="14.58" height="14.55" fill="#001900"/><rect x="256.90" y="1462.91" width="14.58" height="14.55" fill="#008200"/><rect x="271.46" y="1462.91" width="14.58" height="14.55" fill="#006e00"/><rect x="286.02" y="1462.91" width="14.58" height="14.55" fill="#00af00"/><rect x="300.59" y="1462.91" width="14.58" height="14.55" fill="#730000"/><rect x="315.15" y="1462.91" width="14.58" height="14.55" fill="#aa0000"/><rect x="329.71" y="1462.91" width="14.58" height="14.55" fill="#3c0000"/><rect x="344.27" y="1462.91" width="14.58" height="14.55" fill="#000f00"/><rect x="358.84" y="1462.91" width="14.58" height="14.55" fill="#001400"/><rect x="256.90" y="1477.44" width="14.58" height="14.55" fill="#003c00"/><rect x="271.46" y="1477.44" width="14.58" height="14.55" fill="#00f500"/><rect x="286.02" y="1477.44" width="14.58" height="14.55" fill="#002d00"/><rect x="300.59" y="1477.44" width="14.58" height="14.55" fill="#9b0000"/><rect x="315.15" y="1477.44" width="14.58" height="14.55" fill="#1e0000"/><rect x="329.71" y="1477.44" width="14.58" height="14.55" fill="#050000"/><rect x="344.27" y="1477.44" width="14.58" height="14.55" fill="#550000"/><rect x="358.84" y="1477.44" width="14.58" height="14.55" fill="#005a00"/><rect x="256.90" y="1491.97" width="14.58" height="14.55" fill="#00af00"/><rect x="271.46" y="1491.97" width="14.58" height="14.55" fill="#009100"/><rect x="286.02" y="1491.97" width="14.58" height="14.55" fill="#002800"/><rect x="300.59" y="1491.97" width="14.58" height="14.55" fill="#af0000"/><rect x="315.15" y="1491.97" width="14.58" height="14.55" fill="#1e0000"/><rect x="329.71" y="1491.97" width="14.58" height="14.55" fill="#550000"/><rect x="344.27" y="1491.97" width="14.58" height="14.55" fill="#2d0000"/><rect x="358.84" y="1491.97" width="14.58" height="14.55" fill="#006400"/><rect x="256.90" y="1506.50" width="14.58" height="14.55" fill="#00af00"/><rect x="271.46" y="1506.50" width="14.58" height="14.55" fill="#005f00"/><rect x="286.02" y="1506.50" width="14.58" height="14.55" fill="#0a0000"/><rect x="300.59" y="1506.50" width="14.58" height="14.55" fill="#7d0000"/><rect x="315.15" y="1506.50" width="14.58" height="14.55" fill="#320000"/><rect x="329.71" y="1506.50" width="14.58" height="14.55" fill="#8c0000"/><rect x="344.27" y="1506.50" width="14.58" height="14.55" fill="#1e0000"/><rect x="358.84" y="1506.50" width="14.58" height="14.55" fill="#00aa00"/><rect x="256.90" y="1521.02" width="14.58" height="14.55" fill="#009600"/><rect x="271.46" y="1521.02" width="14.58" height="14.55" fill="#009100"/><rect x="286.02" y="1521.02" width="14.58" height="14.55" fill="#007300"/><rect x="300.59" y="1521.02" width="14.58" height="14.55" fill="#1e0000"/><rect x="315.15" y="1521.02" width="14.58" height="14.55" fill="#002d00"/><rect x="329.71" y="1521.02" width="14.58" height="14.55" fill="#b90000"/><rect x="344.27" y="1521.02" width="14.58" height="14.55" fill="#140000"/><rect x="358.84" y="1521.02" width="14.58" height="14.55" fill="#640000"/><rect x="256.90" y="1535.55" width="14.58" height="14.55" fill="#005f00"/><rect x="271.46" y="1535.55" width="14.58" height="14.55" fill="#00c800"/><rect x="286.02" y="1535.55" width="14.58" height="14.55" fill="#007300"/><rect x="300.59" y="1535.55" width="14.58" height="14.55" fill="#1e0000"/><rect x="315.15" y="1535.55" width="14.58" height="14.55" fill="#003700"/><rect x="329.71" y="1535.55" width="14.58" height="14.55" fill="#af0000"/><rect x="344.27" y="1535.55" width="14.58" height="14.55" fill="#000000"/><rect x="358.84" y="1535.55" width="14.58" height="14.55" fill="#820000"/><rect x="256.90" y="1550.08" width="14.58" height="14.55" fill="#006400"/><rect x="271.46" y="1550.08" width="14.58" height="14.55" fill="#00b900"/><rect x="286.02" y="1550.08" width="14.58" height="14.55" fill="#005500"/><rect x="300.59" y="1550.08" width="14.58" height="14.55" fill="#000f00"/><rect x="315.15" y="1550.08" width="14.58" height="14.55" fill="#003200"/><rect x="329.71" y="1550.08" width="14.58" height="14.55" fill="#a50000"/><rect x="344.27" y="1550.08" width="14.58" height="14.55" fill="#000a00"/><rect x="358.84" y="1550.08" width="14.58" height="14.55" fill="#a50000"/><rect x="256.90" y="1564.61" width="14.58" height="14.55" fill="#001400"/><rect x="271.46" y="1564.61" width="14.58" height="14.55" fill="#00af00"/><rect x="286.02" y="1564.61" width="14.58" height="14.55" fill="#004100"/><rect x="300.59" y="1564.61" width="14.58" height="14.55" fill="#006e00"/><rect x="315.15" y="1564.61" width="14.58" height="14.55" fill="#005500"/><rect x="329.71" y="1564.61" width="14.58" height="14.55" fill="#d70000"/><rect x="344.27" y="1564.61" width="14.58" height="14.55" fill="#050000"/><rect x="358.84" y="1564.61" width="14.58" height="14.55" fill="#460000"/><rect x="256.90" y="1579.14" width="14.58" height="14.55" fill="#006e00"/><rect x="271.46" y="1579.14" width="14.58" height="14.55" fill="#006e00"/><rect x="286.02" y="1579.14" width="14.58" height="14.55" fill="#003c00"/><rect x="300.59" y="1579.14" width="14.58" height="14.55" fill="#000000"/><rect x="315.15" y="1579.14" width="14.58" height="14.55" fill="#00a500"/><rect x="329.71" y="1579.14" width="14.58" height="14.55" fill="#af0000"/><rect x="344.27" y="1579.14" width="14.58" height="14.55" fill="#0a0000"/><rect x="358.84" y="1579.14" width="14.58" height="14.55" fill="#9b0000"/><rect x="256.90" y="1593.66" width="14.58" height="14.55" fill="#00a500"/><rect x="271.46" y="1593.66" width="14.58" height="14.55" fill="#005500"/><rect x="286.02" y="1593.66" width="14.58" height="14.55" fill="#002300"/><rect x="300.59" y="1593.66" width="14.58" height="14.55" fill="#002300"/><rect x="315.15" y="1593.66" width="14.58" height="14.55" fill="#006e00"/><rect x="329.71" y="1593.66" width="14.58" height="14.55" fill="#cd0000"/><rect x="344.27" y="1593.66" width="14.58" height="14.55" fill="#280000"/><rect x="358.84" y="1593.66" width="14.58" height="14.55" fill="#370000"/><rect x="256.90" y="1608.19" width="14.58" height="14.55" fill="#007300"/><rect x="271.46" y="1608.19" width="14.58" height="14.55" fill="#1e0000"/><rect x="286.02" y="1608.19" width="14.58" height="14.55" fill="#002800"/><rect x="300.59" y="1608.19" width="14.58" height="14.55" fill="#00b900"/><rect x="315.15" y="1608.19" width="14.58" height="14.55" fill="#002d00"/><rect x="329.71" y="1608.19" width="14.58" height="14.55" fill="#be0000"/><rect x="344.27" y="1608.19" width="14.58" height="14.55" fill="#004100"/><rect x="358.84" y="1608.19" width="14.58" height="14.55" fill="#5f0000"/><rect x="256.90" y="1622.72" width="14.58" height="14.55" fill="#005a00"/><rect x="271.46" y="1622.72" width="14.58" height="14.55" fill="#004100"/><rect x="286.02" y="1622.72" width="14.58" height="14.55" fill="#002800"/><rect x="300.59" y="1622.72" width="14.58" height="14.55" fill="#001400"/><rect x="315.15" y="1622.72" width="14.58" height="14.55" fill="#009100"/><rect x="329.71" y="1622.72" width="14.58" height="14.55" fill="#7d0000"/><rect x="344.27" y="1622.72" width="14.58" height="14.55" fill="#006e00"/><rect x="358.84" y="1622.72" width="14.58" height="14.55" fill="#cd0000"/><rect x="256.90" y="1637.25" width="14.58" height="14.55" fill="#005500"/><rect x="271.46" y="1637.25" width="14.58" height="14.55" fill="#004100"/><rect x="286.02" y="1637.25" width="14.58" height="14.55" fill="#003700"/><rect x="300.59" y="1637.25" width="14.58" height="14.55" fill="#1e0000"/><rect x="315.15" y="1637.25" width="14.58" height="14.55" fill="#005a00"/><rect x="329.71" y="1637.25" width="14.58" height="14.55" fill="#eb0000"/><rect x="344.27" y="1637.25" width="14.58" height="14.55" fill="#00a500"/><rect x="358.84" y="1637.25" width="14.58" height="14.55" fill="#230000"/><rect x="256.90" y="1651.78" width="14.58" height="14.55" fill="#008700"/><rect x="271.46" y="1651.78" width="14.58" height="14.55" fill="#006e00"/><rect x="286.02" y="1651.78" width="14.58" height="14.55" fill="#0a0000"/><rect x="300.59" y="1651.78" width="14.58" height="14.55" fill="#002800"/><rect x="315.15" y="1651.78" width="14.58" height="14.55" fill="#004b00"/><rect x="329.71" y="1651.78" width="14.58" height="14.55" fill="#e10000"/><rect x="344.27" y="1651.78" width="14.58" height="14.55" fill="#005000"/><rect x="358.84" y="1651.78" width="14.58" height="14.55" fill="#4b0000"/><rect x="256.90" y="1666.30" width="14.58" height="14.55" fill="#005f00"/><rect x="271.46" y="1666.30" width="14.58" height="14.55" fill="#004b00"/><rect x="286.02" y="1666.30" width="14.58" height="14.55" fill="#003200"/><rect x="300.59" y="1666.30" width="14.58" height="14.55" fill="#008700"/><rect x="315.15" y="1666.30" width="14.58" height="14.55" fill="#005500"/><rect x="329.71" y="1666.30" width="14.58" height="14.55" fill="#500000"/><rect x="344.27" y="1666.30" width="14.58" height="14.55" fill="#0f0000"/><rect x="358.84" y="1666.30" width="14.58" height="14.55" fill="#e10000"/><rect x="256.90" y="1680.83" width="14.58" height="14.55" fill="#005500"/><rect x="271.46" y="1680.83" width="14.58" height="14.55" fill="#004600"/><rect x="286.02" y="1680.83" width="14.58" height="14.55" fill="#003700"/><rect x="300.59" y="1680.83" width="14.58" height="14.55" fill="#006900"/><rect x="315.15" y="1680.83" width="14.58" height="14.55" fill="#001900"/><rect x="329.71" y="1680.83" width="14.58" height="14.55" fill="#005a00"/><rect x="344.27" y="1680.83" width="14.58" height="14.55" fill="#0a0000"/><rect x="358.84" y="1680.83" width="14.58" height="14.55" fill="#fa0000"/><rect x="256.90" y="1695.36" width="14.58" height="14.55" fill="#008c00"/><rect x="271.46" y="1695.36" width="14.58" height="14.55" fill="#004b00"/><rect x="286.02" y="1695.36" width="14.58" height="14.55" fill="#006e00"/><rect x="300.59" y="1695.36" width="14.58" height="14.55" fill="#410000"/><rect x="315.15" y="1695.36" width="14.58" height="14.55" fill="#004600"/><rect x="329.71" y="1695.36" width="14.58" height="14.55" fill="#0f0000"/><rect x="344.27" y="1695.36" width="14.58" height="14.55" fill="#e10000"/><rect x="358.84" y="1695.36" width="14.58" height="14.55" fill="#002800"/><rect x="256.90" y="1709.89" width="14.58" height="14.55" fill="#004600"/><rect x="271.46" y="1709.89" width="14.58" height="14.55" fill="#000f00"/><rect x="286.02" y="1709.89" width="14.58" height="14.55" fill="#00a000"/><rect x="300.59" y="1709.89" width="14.58" height="14.55" fill="#004b00"/><rect x="315.15" y="1709.89" width="14.58" height="14.55" fill="#008200"/><rect x="329.71" y="1709.89" width="14.58" height="14.55" fill="#002800"/><rect x="344.27" y="1709.89" width="14.58" height="14.55" fill="#af0000"/><rect x="358.84" y="1709.89" width="14.58" height="14.55" fill="#b90000"/><rect x="256.90" y="1724.42" width="14.58" height="14.55" fill="#005000"/><rect x="271.46" y="1724.42" width="14.58" height="14.55" fill="#1e0000"/><rect x="286.02" y="1724.42" width="14.58" height="14.55" fill="#005f00"/><rect x="300.59" y="1724.42" width="14.58" height="14.55" fill="#008700"/><rect x="315.15" y="1724.42" width="14.58" height="14.55" fill="#008700"/><rect x="329.71" y="1724.42" width="14.58" height="14.55" fill="#002800"/><rect x="344.27" y="1724.42" width="14.58" height="14.55" fill="#d70000"/><rect x="358.84" y="1724.42" width="14.58" height="14.55" fill="#640000"/><rect x="256.90" y="1738.94" width="14.58" height="14.55" fill="#00a500"/><rect x="271.46" y="1738.94" width="14.58" height="14.55" fill="#000a00"/><rect x="286.02" y="1738.94" width="14.58" height="14.55" fill="#009100"/><rect x="300.59" y="1738.94" width="14.58" height="14.55" fill="#000000"/><rect x="315.15" y="1738.94" width="14.58" height="14.55" fill="#006900"/><rect x="329.71" y="1738.94" width="14.58" height="14.55" fill="#230000"/><rect x="344.27" y="1738.94" width="14.58" height="14.55" fill="#a00000"/><rect x="358.84" y="1738.94" width="14.58" height="14.55" fill="#6e0000"/><rect x="256.90" y="1753.47" width="14.58" height="14.55" fill="#00e100"/><rect x="271.46" y="1753.47" width="14.58" height="14.55" fill="#004b00"/><rect x="286.02" y="1753.47" width="14.58" height="14.55" fill="#003200"/><rect x="300.59" y="1753.47" width="14.58" height="14.55" fill="#003700"/><rect x="315.15" y="1753.47" width="14.58" height="14.55" fill="#004600"/><rect x="329.71" y="1753.47" width="14.58" height="14.55" fill="#2d0000"/><rect x="344.27" y="1753.47" width="14.58" height="14.55" fill="#8c0000"/><rect x="358.84" y="1753.47" width="14.58" height="14.55" fill="#960000"/></g><path d="M271.46 315.20V1768.00M286.02 315.20V1768.00M300.59 315.20V1768.00M315.15 315.20V1768.00M329.71 315.20V1768.00M344.27 315.20V1768.00M358.84 315.20V1768.00" stroke="#ffffff" stroke-opacity="0.08" stroke-width="1.1" fill="none"/><path d="M256.90 329.73H373.40M256.90 344.26H373.40M256.90 358.78H373.40M256.90 373.31H373.40M256.90 387.84H373.40M256.90 402.37H373.40M256.90 416.90H373.40M256.90 431.42H373.40M256.90 445.95H373.40M256.90 460.48H373.40M256.90 475.01H373.40M256.90 489.54H373.40M256.90 504.06H373.40M256.90 518.59H373.40M256.90 533.12H373.40M256.90 547.65H373.40M256.90 562.18H373.40M256.90 576.70H373.40M256.90 591.23H373.40M256.90 605.76H373.40M256.90 620.29H373.40M256.90 634.82H373.40M256.90 649.34H373.40M256.90 663.87H373.40M256.90 678.40H373.40M256.90 692.93H373.40M256.90 707.46H373.40M256.90 721.98H373.40M256.90 736.51H373.40M256.90 751.04H373.40M256.90 765.57H373.40M256.90 780.10H373.40M256.90 794.62H373.40M256.90 809.15H373.40M256.90 823.68H373.40M256.90 838.21H373.40M256.90 852.74H373.40M256.90 867.26H373.40M256.90 881.79H373.40M256.90 896.32H373.40M256.90 910.85H373.40M256.90 925.38H373.40M256.90 939.90H373.40M256.90 954.43H373.40M256.90 968.96H373.40M256.90 983.49H373.40M256.90 998.02H373.40M256.90 1012.54H373.40M256.90 1027.07H373.40M256.90 1041.60H373.40M256.90 1056.13H373.40M256.90 1070.66H373.40M256.90 1085.18H373.40M256.90 1099.71H373.40M256.90 1114.24H373.40M256.90 1128.77H373.40M256.90 1143.30H373.40M256.90 1157.82H373.40M256.90 1172.35H373.40M256.90 1186.88H373.40M256.90 1201.41H373.40M256.90 1215.94H373.40M256.90 1230.46H373.40M256.90 1244.99H373.40M256.90 1259.52H373.40M256.90 1274.05H373.40M256.90 1288.58H373.40M256.90 1303.10H373.40M256.90 1317.63H373.40M256.90 1332.16H373.40M256.90 1346.69H373.40M256.90 1361.22H373.40M256.90 1375.74H373.40M256.90 1390.27H373.40M256.90 1404.80H373.40M256.90 1419.33H373.40M256.90 1433.86H373.40M256.90 1448.38H373.40M256.90 1462.91H373.40M256.90 1477.44H373.40M256.90 1491.97H373.40M256.90 1506.50H373.40M256.90 1521.02H373.40M256.90 1535.55H373.40M256.90 1550.08H373.40M256.90 1564.61H373.40M256.90 1579.14H373.40M256.90 1593.66H373.40M256.90 1608.19H373.40M256.90 1622.72H373.40M256.90 1637.25H373.40M256.90 1651.78H373.40M256.90 1666.30H373.40M256.90 1680.83H373.40M256.90 1695.36H373.40M256.90 1709.89H373.40M256.90 1724.42H373.40M256.90 1738.94H373.40M256.90 1753.47H373.40" stroke="#ffffff" stroke-opacity="0.14" stroke-width="1.1" fill="none"/><rect x="256.90" y="261.9" width="14.58" height="14.6" fill="#ff8b82"/><rect x="256.90" y="286.3" width="14.58" height="14.4" fill="#80b3ff"/><rect x="271.46" y="261.9" width="14.58" height="14.6" fill="#ff8b82"/><rect x="271.46" y="286.3" width="14.58" height="14.4" fill="#80b3ff"/><rect x="286.02" y="261.9" width="14.58" height="14.6" fill="#ff8b82"/><rect x="286.02" y="286.3" width="14.58" height="14.4" fill="#80b3ff"/><rect x="300.59" y="261.9" width="14.58" height="14.6" fill="#ff8b82"/><rect x="300.59" y="286.3" width="14.58" height="14.4" fill="#00d45c"/><rect x="315.15" y="261.9" width="14.58" height="14.6" fill="#ff8b82"/><rect x="315.15" y="286.3" width="14.58" height="14.4" fill="#00d45c"/><rect x="329.71" y="261.9" width="14.58" height="14.6" fill="#ff8b82"/><rect x="329.71" y="286.3" width="14.58" height="14.4" fill="#00d45c"/><rect x="344.27" y="261.9" width="14.58" height="14.6" fill="#ff8b82"/><rect x="344.27" y="286.3" width="14.58" height="14.4" fill="#00d45c"/><rect x="358.84" y="261.9" width="14.58" height="14.6" fill="#ff8b82"/><rect x="358.84" y="286.3" width="14.58" height="14.4" fill="#00d45c"/><path d="M271.46 261.9V276.5M271.46 286.3V300.7M286.02 261.9V276.5M286.02 286.3V300.7M300.59 261.9V276.5M300.59 286.3V300.7M315.15 261.9V276.5M315.15 286.3V300.7M329.71 261.9V276.5M329.71 286.3V300.7M344.27 261.9V276.5M344.27 286.3V300.7M358.84 261.9V276.5M358.84 286.3V300.7" stroke="#ffffff" stroke-opacity="0.3" stroke-width="0.8" fill="none"/><rect x="524.8" y="975.94" width="48.50" height="7.31" fill="rgb(0, 255, 0)"/><rect x="524.8" y="968.68" width="48.50" height="7.31" fill="rgb(0, 250, 0)"/><rect x="524.8" y="961.41" width="48.50" height="7.31" fill="rgb(0, 245, 0)"/><rect x="524.8" y="954.15" width="48.50" height="7.31" fill="rgb(0, 240, 0)"/><rect x="524.8" y="946.89" width="48.50" height="7.31" fill="rgb(0, 234, 0)"/><rect x="524.8" y="939.63" width="48.50" height="7.31" fill="rgb(0, 229, 0)"/><rect x="524.8" y="932.37" width="48.50" height="7.31" fill="rgb(0, 224, 0)"/><rect x="524.8" y="925.10" width="48.50" height="7.31" fill="rgb(0, 219, 0)"/><rect x="524.8" y="917.84" width="48.50" height="7.31" fill="rgb(0, 214, 0)"/><rect x="524.8" y="910.58" width="48.50" height="7.31" fill="rgb(0, 209, 0)"/><rect x="524.8" y="903.32" width="48.50" height="7.31" fill="rgb(0, 203, 0)"/><rect x="524.8" y="896.06" width="48.50" height="7.31" fill="rgb(0, 198, 0)"/><rect x="524.8" y="888.79" width="48.50" height="7.31" fill="rgb(0, 193, 0)"/><rect x="524.8" y="881.53" width="48.50" height="7.31" fill="rgb(0, 188, 0)"/><rect x="524.8" y="874.27" width="48.50" height="7.31" fill="rgb(0, 183, 0)"/><rect x="524.8" y="867.01" width="48.50" height="7.31" fill="rgb(0, 178, 0)"/><rect x="524.8" y="859.75" width="48.50" height="7.31" fill="rgb(0, 173, 0)"/><rect x="524.8" y="852.48" width="48.50" height="7.31" fill="rgb(0, 167, 0)"/><rect x="524.8" y="845.22" width="48.50" height="7.31" fill="rgb(0, 162, 0)"/><rect x="524.8" y="837.96" width="48.50" height="7.31" fill="rgb(0, 157, 0)"/><rect x="524.8" y="830.70" width="48.50" height="7.31" fill="rgb(0, 152, 0)"/><rect x="524.8" y="823.44" width="48.50" height="7.31" fill="rgb(0, 147, 0)"/><rect x="524.8" y="816.17" width="48.50" height="7.31" fill="rgb(0, 142, 0)"/><rect x="524.8" y="808.91" width="48.50" height="7.31" fill="rgb(0, 137, 0)"/><rect x="524.8" y="801.65" width="48.50" height="7.31" fill="rgb(0, 131, 0)"/><rect x="524.8" y="794.39" width="48.50" height="7.31" fill="rgb(0, 126, 0)"/><rect x="524.8" y="787.13" width="48.50" height="7.31" fill="rgb(0, 121, 0)"/><rect x="524.8" y="779.86" width="48.50" height="7.31" fill="rgb(0, 116, 0)"/><rect x="524.8" y="772.60" width="48.50" height="7.31" fill="rgb(0, 111, 0)"/><rect x="524.8" y="765.34" width="48.50" height="7.31" fill="rgb(0, 106, 0)"/><rect x="524.8" y="758.08" width="48.50" height="7.31" fill="rgb(0, 100, 0)"/><rect x="524.8" y="750.82" width="48.50" height="7.31" fill="rgb(0, 95, 0)"/><rect x="524.8" y="743.55" width="48.50" height="7.31" fill="rgb(0, 90, 0)"/><rect x="524.8" y="736.29" width="48.50" height="7.31" fill="rgb(0, 85, 0)"/><rect x="524.8" y="729.03" width="48.50" height="7.31" fill="rgb(0, 80, 0)"/><rect x="524.8" y="721.77" width="48.50" height="7.31" fill="rgb(0, 75, 0)"/><rect x="524.8" y="714.51" width="48.50" height="7.31" fill="rgb(0, 70, 0)"/><rect x="524.8" y="707.24" width="48.50" height="7.31" fill="rgb(0, 64, 0)"/><rect x="524.8" y="699.98" width="48.50" height="7.31" fill="rgb(0, 59, 0)"/><rect x="524.8" y="692.72" width="48.50" height="7.31" fill="rgb(0, 54, 0)"/><rect x="524.8" y="685.46" width="48.50" height="7.31" fill="rgb(0, 49, 0)"/><rect x="524.8" y="678.20" width="48.50" height="7.31" fill="rgb(0, 44, 0)"/><rect x="524.8" y="670.93" width="48.50" height="7.31" fill="rgb(0, 39, 0)"/><rect x="524.8" y="663.67" width="48.50" height="7.31" fill="rgb(0, 33, 0)"/><rect x="524.8" y="656.41" width="48.50" height="7.31" fill="rgb(0, 28, 0)"/><rect x="524.8" y="649.15" width="48.50" height="7.31" fill="rgb(0, 23, 0)"/><rect x="524.8" y="641.89" width="48.50" height="7.31" fill="rgb(0, 18, 0)"/><rect x="524.8" y="634.62" width="48.50" height="7.31" fill="rgb(0, 13, 0)"/><rect x="524.8" y="627.36" width="48.50" height="7.31" fill="rgb(0, 8, 0)"/><rect x="524.8" y="620.10" width="48.50" height="7.31" fill="rgb(0, 3, 0)"/><rect x="524.8" y="612.84" width="48.50" height="7.31" fill="rgb(3, 0, 0)"/><rect x="524.8" y="605.58" width="48.50" height="7.31" fill="rgb(8, 0, 0)"/><rect x="524.8" y="598.31" width="48.50" height="7.31" fill="rgb(13, 0, 0)"/><rect x="524.8" y="591.05" width="48.50" height="7.31" fill="rgb(18, 0, 0)"/><rect x="524.8" y="583.79" width="48.50" height="7.31" fill="rgb(23, 0, 0)"/><rect x="524.8" y="576.53" width="48.50" height="7.31" fill="rgb(28, 0, 0)"/><rect x="524.8" y="569.27" width="48.50" height="7.31" fill="rgb(33, 0, 0)"/><rect x="524.8" y="562.00" width="48.50" height="7.31" fill="rgb(39, 0, 0)"/><rect x="524.8" y="554.74" width="48.50" height="7.31" fill="rgb(44, 0, 0)"/><rect x="524.8" y="547.48" width="48.50" height="7.31" fill="rgb(49, 0, 0)"/><rect x="524.8" y="540.22" width="48.50" height="7.31" fill="rgb(54, 0, 0)"/><rect x="524.8" y="532.96" width="48.50" height="7.31" fill="rgb(59, 0, 0)"/><rect x="524.8" y="525.69" width="48.50" height="7.31" fill="rgb(64, 0, 0)"/><rect x="524.8" y="518.43" width="48.50" height="7.31" fill="rgb(70, 0, 0)"/><rect x="524.8" y="511.17" width="48.50" height="7.31" fill="rgb(75, 0, 0)"/><rect x="524.8" y="503.91" width="48.50" height="7.31" fill="rgb(80, 0, 0)"/><rect x="524.8" y="496.65" width="48.50" height="7.31" fill="rgb(85, 0, 0)"/><rect x="524.8" y="489.38" width="48.50" height="7.31" fill="rgb(90, 0, 0)"/><rect x="524.8" y="482.12" width="48.50" height="7.31" fill="rgb(95, 0, 0)"/><rect x="524.8" y="474.86" width="48.50" height="7.31" fill="rgb(100, 0, 0)"/><rect x="524.8" y="467.60" width="48.50" height="7.31" fill="rgb(106, 0, 0)"/><rect x="524.8" y="460.34" width="48.50" height="7.31" fill="rgb(111, 0, 0)"/><rect x="524.8" y="453.07" width="48.50" height="7.31" fill="rgb(116, 0, 0)"/><rect x="524.8" y="445.81" width="48.50" height="7.31" fill="rgb(121, 0, 0)"/><rect x="524.8" y="438.55" width="48.50" height="7.31" fill="rgb(126, 0, 0)"/><rect x="524.8" y="431.29" width="48.50" height="7.31" fill="rgb(131, 0, 0)"/><rect x="524.8" y="424.03" width="48.50" height="7.31" fill="rgb(137, 0, 0)"/><rect x="524.8" y="416.76" width="48.50" height="7.31" fill="rgb(142, 0, 0)"/><rect x="524.8" y="409.50" width="48.50" height="7.31" fill="rgb(147, 0, 0)"/><rect x="524.8" y="402.24" width="48.50" height="7.31" fill="rgb(152, 0, 0)"/><rect x="524.8" y="394.98" width="48.50" height="7.31" fill="rgb(157, 0, 0)"/><rect x="524.8" y="387.72" width="48.50" height="7.31" fill="rgb(162, 0, 0)"/><rect x="524.8" y="380.45" width="48.50" height="7.31" fill="rgb(167, 0, 0)"/><rect x="524.8" y="373.19" width="48.50" height="7.31" fill="rgb(173, 0, 0)"/><rect x="524.8" y="365.93" width="48.50" height="7.31" fill="rgb(178, 0, 0)"/><rect x="524.8" y="358.67" width="48.50" height="7.31" fill="rgb(183, 0, 0)"/><rect x="524.8" y="351.41" width="48.50" height="7.31" fill="rgb(188, 0, 0)"/><rect x="524.8" y="344.14" width="48.50" height="7.31" fill="rgb(193, 0, 0)"/><rect x="524.8" y="336.88" width="48.50" height="7.31" fill="rgb(198, 0, 0)"/><rect x="524.8" y="329.62" width="48.50" height="7.31" fill="rgb(203, 0, 0)"/><rect x="524.8" y="322.36" width="48.50" height="7.31" fill="rgb(209, 0, 0)"/><rect x="524.8" y="315.10" width="48.50" height="7.31" fill="rgb(214, 0, 0)"/><rect x="524.8" y="307.83" width="48.50" height="7.31" fill="rgb(219, 0, 0)"/><rect x="524.8" y="300.57" width="48.50" height="7.31" fill="rgb(224, 0, 0)"/><rect x="524.8" y="293.31" width="48.50" height="7.31" fill="rgb(229, 0, 0)"/><rect x="524.8" y="286.05" width="48.50" height="7.31" fill="rgb(234, 0, 0)"/><rect x="524.8" y="278.79" width="48.50" height="7.31" fill="rgb(240, 0, 0)"/><rect x="524.8" y="271.52" width="48.50" height="7.31" fill="rgb(245, 0, 0)"/><rect x="524.8" y="264.26" width="48.50" height="7.31" fill="rgb(250, 0, 0)"/><rect x="524.8" y="257.00" width="48.50" height="7.31" fill="rgb(255, 0, 0)"/><path d="M524.8 975.94H573.3M524.8 968.68H573.3M524.8 961.41H573.3M524.8 954.15H573.3M524.8 946.89H573.3M524.8 939.63H573.3M524.8 932.37H573.3M524.8 925.10H573.3M524.8 917.84H573.3M524.8 910.58H573.3M524.8 903.32H573.3M524.8 896.06H573.3M524.8 888.79H573.3M524.8 881.53H573.3M524.8 874.27H573.3M524.8 867.01H573.3M524.8 859.75H573.3M524.8 852.48H573.3M524.8 845.22H573.3M524.8 837.96H573.3M524.8 830.70H573.3M524.8 823.44H573.3M524.8 816.17H573.3M524.8 808.91H573.3M524.8 801.65H573.3M524.8 794.39H573.3M524.8 787.13H573.3M524.8 779.86H573.3M524.8 772.60H573.3M524.8 765.34H573.3M524.8 758.08H573.3M524.8 750.82H573.3M524.8 743.55H573.3M524.8 736.29H573.3M524.8 729.03H573.3M524.8 721.77H573.3M524.8 714.51H573.3M524.8 707.24H573.3M524.8 699.98H573.3M524.8 692.72H573.3M524.8 685.46H573.3M524.8 678.20H573.3M524.8 670.93H573.3M524.8 663.67H573.3M524.8 656.41H573.3M524.8 649.15H573.3M524.8 641.89H573.3M524.8 634.62H573.3M524.8 627.36H573.3M524.8 620.10H573.3M524.8 612.84H573.3M524.8 605.58H573.3M524.8 598.31H573.3M524.8 591.05H573.3M524.8 583.79H573.3M524.8 576.53H573.3M524.8 569.27H573.3M524.8 562.00H573.3M524.8 554.74H573.3M524.8 547.48H573.3M524.8 540.22H573.3M524.8 532.96H573.3M524.8 525.69H573.3M524.8 518.43H573.3M524.8 511.17H573.3M524.8 503.91H573.3M524.8 496.65H573.3M524.8 489.38H573.3M524.8 482.12H573.3M524.8 474.86H573.3M524.8 467.60H573.3M524.8 460.34H573.3M524.8 453.07H573.3M524.8 445.81H573.3M524.8 438.55H573.3M524.8 431.29H573.3M524.8 424.03H573.3M524.8 416.76H573.3M524.8 409.50H573.3M524.8 402.24H573.3M524.8 394.98H573.3M524.8 387.72H573.3M524.8 380.45H573.3M524.8 373.19H573.3M524.8 365.93H573.3M524.8 358.67H573.3M524.8 351.41H573.3M524.8 344.14H573.3M524.8 336.88H573.3M524.8 329.62H573.3M524.8 322.36H573.3M524.8 315.10H573.3M524.8 307.83H573.3M524.8 300.57H573.3M524.8 293.31H573.3M524.8 286.05H573.3M524.8 278.79H573.3M524.8 271.52H573.3M524.8 264.26H573.3" stroke="#ffffff" stroke-opacity="0.15" stroke-width="0.9" fill="none"/><rect x="604.7" y="272.6" width="21.2" height="20.9" fill="#ff8b82"/><rect x="604.7" y="325.2" width="21.2" height="20.5" fill="#80b3ff"/><rect x="604.7" y="345.7" width="21.2" height="20.8" fill="#00d45c"/><g font-family="Liberation Sans, sans-serif" fill="#000"><text x="387.9" y="274.6" font-size="14.4" font-weight="bold" >Dataset</text><text x="387.9" y="299.0" font-size="14.4" font-weight="bold" >Label</text><text x="388.0" y="327.61" font-size="14.4" >CLEC4G</text><text x="388.0" y="342.14" font-size="14.4" >IL6</text><text x="388.0" y="356.67" font-size="14.4" >LBP</text><text x="388.0" y="371.20" font-size="14.4" >GALNT9</text><text x="388.0" y="385.73" font-size="14.4" >CHI3L2</text><text x="388.0" y="400.25" font-size="14.4" >FOSB</text><text x="388.0" y="414.78" font-size="14.4" >ATF3</text><text x="388.0" y="429.31" font-size="14.4" >CXCL8</text><text x="388.0" y="443.84" font-size="14.4" >C1QTNF9</text><text x="388.0" y="458.37" font-size="14.4" >PDK4</text><text x="388.0" y="472.89" font-size="14.4" >IL1RN</text><text x="388.0" y="487.42" font-size="14.4" >ADH1B</text><text x="388.0" y="501.95" font-size="14.4" >FABP4</text><text x="388.0" y="516.48" font-size="14.4" >SPP1</text><text x="388.0" y="531.01" font-size="14.4" >MMP9</text><text x="388.0" y="545.53" font-size="14.4" >IBSP</text><text x="388.0" y="560.06" font-size="14.4" >CTHRC1</text><text x="388.0" y="574.59" font-size="14.4" >KRT17</text><text x="388.0" y="589.12" font-size="14.4" >UNC5A</text><text x="388.0" y="603.65" font-size="14.4" >MCHR1</text><text x="388.0" y="618.17" font-size="14.4" >PI15</text><text x="388.0" y="632.70" font-size="14.4" >THBS1</text><text x="388.0" y="647.23" font-size="14.4" >LOC105373381</text><text x="388.0" y="661.76" font-size="14.4" >CYTL1</text><text x="388.0" y="676.29" font-size="14.4" >SLC7A5</text><text x="388.0" y="690.81" font-size="14.4" >FAM132B</text><text x="388.0" y="705.34" font-size="14.4" >SLC38A5</text><text x="388.0" y="719.87" font-size="14.4" >ANGPT2</text><text x="388.0" y="734.40" font-size="14.4" >FAM167B</text><text x="388.0" y="748.93" font-size="14.4" >TFPI2</text><text x="388.0" y="763.45" font-size="14.4" >EPHB1</text><text x="388.0" y="777.98" font-size="14.4" >APLN</text><text x="388.0" y="792.51" font-size="14.4" >CHST1</text><text x="388.0" y="807.04" font-size="14.4" >ADAMTS4</text><text x="388.0" y="821.57" font-size="14.4" >ADAMTS14</text><text x="388.0" y="836.09" font-size="14.4" >PRND</text><text x="388.0" y="850.62" font-size="14.4" >MMP7</text><text x="388.0" y="865.15" font-size="14.4" >N4BP3</text><text x="388.0" y="879.68" font-size="14.4" >STC1</text><text x="388.0" y="894.21" font-size="14.4" >STK32B</text><text x="388.0" y="908.73" font-size="14.4" >F2RL3</text><text x="388.0" y="923.26" font-size="14.4" >BAALC</text><text x="388.0" y="937.79" font-size="14.4" >CLDN14</text><text x="388.0" y="952.32" font-size="14.4" >C2CD4B</text><text x="388.0" y="966.85" font-size="14.4" >TCF15</text><text x="388.0" y="981.37" font-size="14.4" >PLA2G7</text><text x="388.0" y="995.90" font-size="14.4" >INHBB</text><text x="388.0" y="1010.43" font-size="14.4" >MMP12</text><text x="388.0" y="1024.96" font-size="14.4" >EPHX4</text><text x="388.0" y="1039.49" font-size="14.4" >LY6H</text><text x="388.0" y="1054.01" font-size="14.4" >FAM166B</text><text x="388.0" y="1068.54" font-size="14.4" >PRODH</text><text x="388.0" y="1083.07" font-size="14.4" >HTRA4</text><text x="388.0" y="1097.60" font-size="14.4" >GJB6</text><text x="388.0" y="1112.13" font-size="14.4" >EPYC</text><text x="388.0" y="1126.65" font-size="14.4" >PDZRN4</text><text x="388.0" y="1141.18" font-size="14.4" >MARCO</text><text x="388.0" y="1155.71" font-size="14.4" >FAM179A</text><text x="388.0" y="1170.24" font-size="14.4" >NGEF</text><text x="388.0" y="1184.77" font-size="14.4" >GJB2</text><text x="388.0" y="1199.29" font-size="14.4" >SLURP1</text><text x="388.0" y="1213.82" font-size="14.4" >SHANK2</text><text x="388.0" y="1228.35" font-size="14.4" >C10orf105</text><text x="388.0" y="1242.88" font-size="14.4" >AGAP9</text><text x="388.0" y="1257.41" font-size="14.4" >CDHR4</text><text x="388.0" y="1271.93" font-size="14.4" >DEFB1</text><text x="388.0" y="1286.46" font-size="14.4" >GPA33</text><text x="388.0" y="1300.99" font-size="14.4" >CLIC5</text><text x="388.0" y="1315.52" font-size="14.4" >GPR1</text><text x="388.0" y="1330.05" font-size="14.4" >CD244</text><text x="388.0" y="1344.57" font-size="14.4" >BTC</text><text x="388.0" y="1359.10" font-size="14.4" >MYPN</text><text x="388.0" y="1373.63" font-size="14.4" >ITLN1</text><text x="388.0" y="1388.16" font-size="14.4" >NCF1</text><text x="388.0" y="1402.69" font-size="14.4" >TIMD4</text><text x="388.0" y="1417.21" font-size="14.4" >DLEU7</text><text x="388.0" y="1431.74" font-size="14.4" >ADAMTSL2</text><text x="388.0" y="1446.27" font-size="14.4" >BRINP1</text><text x="388.0" y="1460.80" font-size="14.4" >HLA−DRB1</text><text x="388.0" y="1475.33" font-size="14.4" >IGLL5</text><text x="388.0" y="1489.85" font-size="14.4" >OLFM3</text><text x="388.0" y="1504.38" font-size="14.4" >COL22A1</text><text x="388.0" y="1518.91" font-size="14.4" >L1TD1</text><text x="388.0" y="1533.44" font-size="14.4" >CX3CR1</text><text x="388.0" y="1547.97" font-size="14.4" >ADGRG2</text><text x="388.0" y="1562.49" font-size="14.4" >OGN</text><text x="388.0" y="1577.02" font-size="14.4" >RSPO2</text><text x="388.0" y="1591.55" font-size="14.4" >PLAG1</text><text x="388.0" y="1606.08" font-size="14.4" >CSN1S1</text><text x="388.0" y="1620.61" font-size="14.4" >AMTN</text><text x="388.0" y="1635.13" font-size="14.4" >PENK</text><text x="388.0" y="1649.66" font-size="14.4" >LAMC3</text><text x="388.0" y="1664.19" font-size="14.4" >FAIM2</text><text x="388.0" y="1678.72" font-size="14.4" >CILP2</text><text x="388.0" y="1693.25" font-size="14.4" >CHODL</text><text x="388.0" y="1707.77" font-size="14.4" >PCSK1N</text><text x="388.0" y="1722.30" font-size="14.4" >HBB</text><text x="388.0" y="1736.83" font-size="14.4" >HBG2</text><text x="388.0" y="1751.36" font-size="14.4" >PWP2</text><text x="388.0" y="1765.89" font-size="14.4" >SORCS1</text><text transform="translate(258.98,1783.0) rotate(90)" font-size="14.4" font-weight="bold">Control 1</text><text transform="translate(273.54,1783.0) rotate(90)" font-size="14.4" font-weight="bold">Control 2</text><text transform="translate(288.11,1783.0) rotate(90)" font-size="14.4" font-weight="bold">Control 3</text><text transform="translate(302.67,1783.0) rotate(90)" font-size="14.4" font-weight="bold">Case 2</text><text transform="translate(317.23,1783.0) rotate(90)" font-size="14.4" font-weight="bold">Case 4</text><text transform="translate(331.79,1783.0) rotate(90)" font-size="14.4" font-weight="bold">Case 3</text><text transform="translate(346.36,1783.0) rotate(90)" font-size="14.4" font-weight="bold">Case 1</text><text transform="translate(360.92,1783.0) rotate(90)" font-size="14.4" font-weight="bold">Case 5</text><text x="604.6" y="268.0" font-size="14.4" font-weight="bold" >Dataset</text><text x="629.8" y="288.4" font-size="14.4" >dataset1</text><text x="592.2" y="320.8" font-size="14.4" >2</text><text x="604.6" y="320.0" font-size="14.4" font-weight="bold" >Label</text><text x="628.9" y="339.6" font-size="14.4" font-weight="bold" >control</text><text x="629.8" y="361.0" font-size="14.4" >case</text><text x="592.6" y="485.6" font-size="14.4" >1</text><text x="592.6" y="649.3" font-size="14.4" >0</text><text x="592.6" y="813.2" font-size="14.4" >−1</text><text x="592.6" y="977.4" font-size="14.4" >−2</text></g></svg>
</body></html>
